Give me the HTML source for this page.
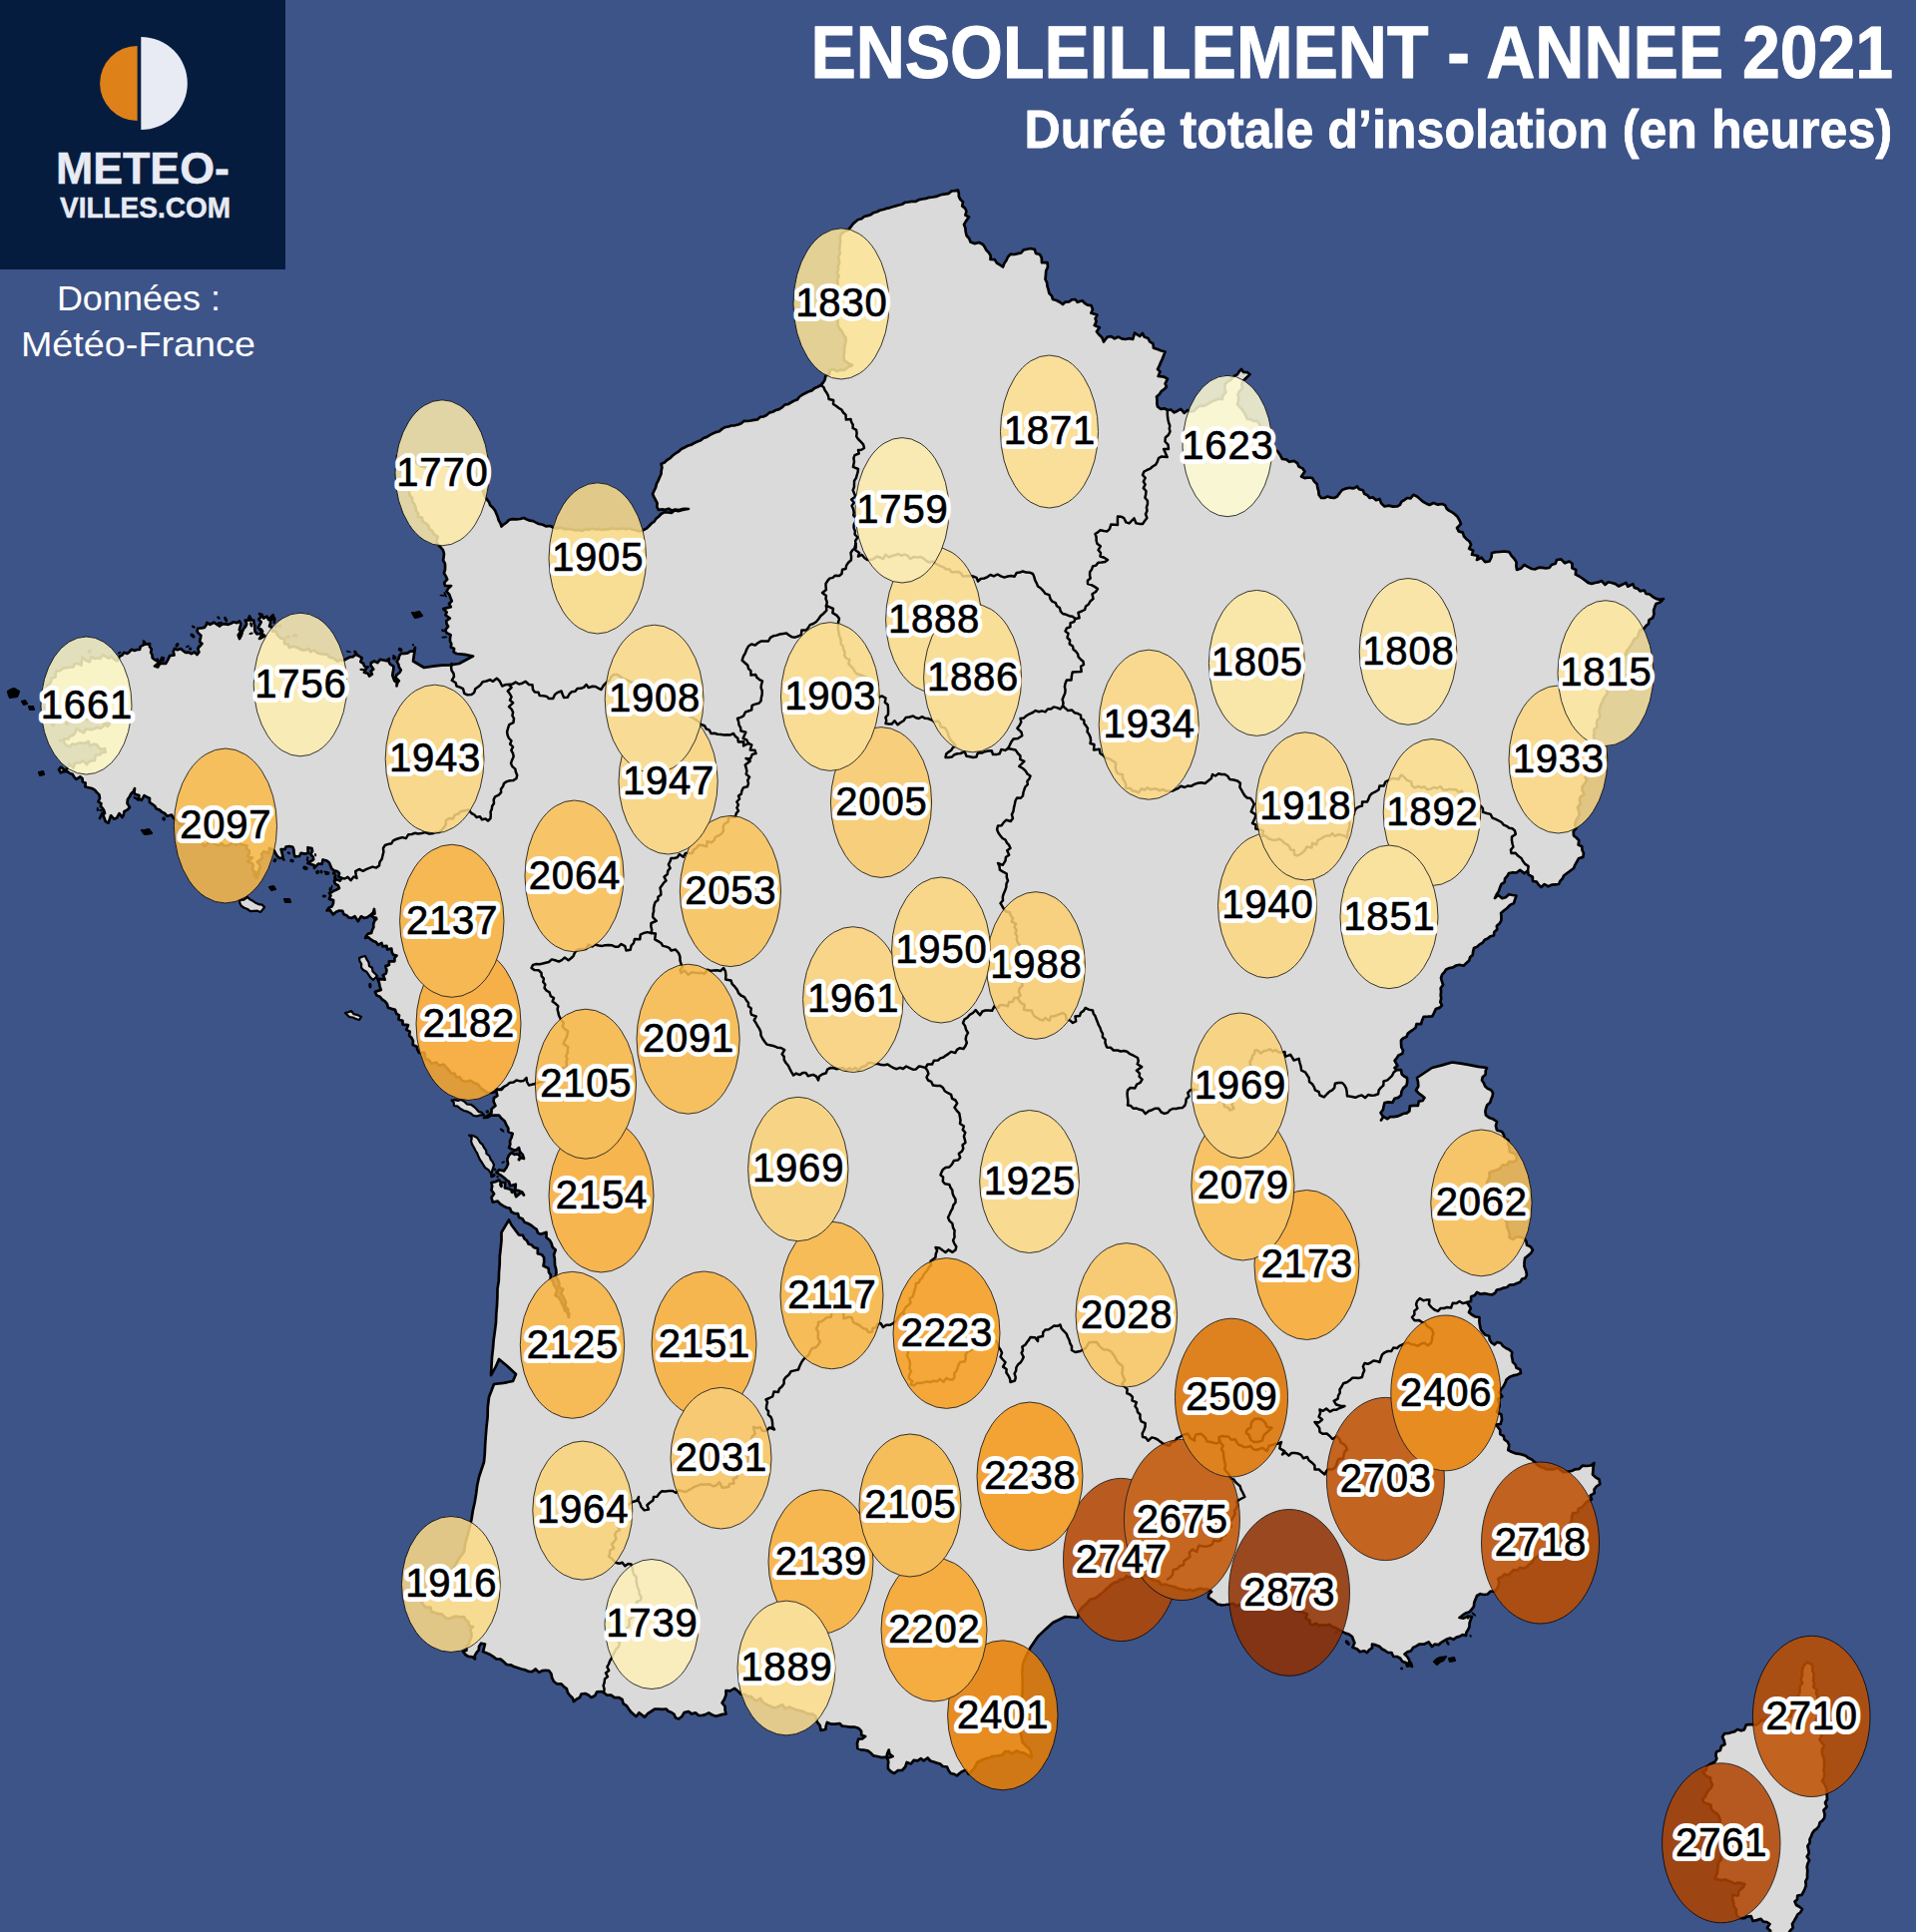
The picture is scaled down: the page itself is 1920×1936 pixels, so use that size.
<!DOCTYPE html>
<html lang="fr"><head><meta charset="utf-8"><title>Ensoleillement - Année 2021</title>
<style>html,body{margin:0;padding:0;background:#3d5489}body{width:1920px;height:1936px;position:relative;overflow:hidden}</style>
</head><body>
<svg width="1920" height="1936" viewBox="0 0 1920 1936" style="position:absolute;left:0;top:0">
<rect width="1920" height="1936" fill="#3d5489"/>
<g fill="#dadada" stroke="#000" stroke-width="2.7" stroke-linejoin="round">
<path d="M960.0,190.5 960.8,193.7 960.9,197.0 962.5,200.0 965.0,202.4 964.2,206.4 967.0,208.6 968.5,211.5 967.4,215.6 971.0,217.5 968.3,221.1 966.0,225.0 967.4,228.5 967.7,232.3 968.6,236.0 971.2,239.0 972.5,242.5 976.5,244.1 981.1,243.0 985.0,245.0 986.9,247.8 988.5,250.8 991.0,253.3 992.7,256.2 992.5,260.0 996.7,260.1 998.9,263.5 1002.0,265.4 1005.0,267.5 1006.3,264.0 1008.4,260.9 1010.0,257.5 1012.6,254.7 1016.4,255.0 1019.7,254.1 1023.2,253.5 1025.7,250.4 1029.1,249.7 1032.5,249.0 1036.8,249.9 1038.0,253.9 1042.0,255.0 1043.8,258.4 1044.0,263.2 1049.5,263.0 1050.0,267.5 1048.2,271.5 1047.9,275.8 1047.5,280.0 1049.1,283.2 1049.5,286.9 1050.6,290.2 1051.3,293.8 1054.0,296.6 1055.0,300.0 1058.7,301.0 1062.0,302.7 1065.0,305.0 1067.7,302.6 1071.2,302.4 1074.0,300.3 1077.5,300.0 1079.8,302.8 1084.5,301.3 1086.9,303.8 1089.8,305.6 1093.4,306.1 1095.0,310.0 1093.4,313.7 1099.4,315.5 1097.6,319.3 1098.6,322.3 1096.7,326.1 1101.9,328.2 1098.9,332.2 1101.0,335.0 1104.3,338.2 1106.0,342.5 1107.8,339.9 1110.0,337.5 1113.6,337.2 1116.9,339.3 1120.7,337.6 1124.0,339.4 1127.5,340.0 1131.1,339.2 1135.2,339.8 1137.0,333.6 1142.1,337.0 1145.0,334.0 1146.6,337.5 1150.4,338.9 1152.2,342.3 1155.4,344.3 1156.0,348.7 1160.0,350.0 1163.7,351.5 1167.5,352.5 1166.2,356.1 1164.8,359.6 1163.2,363.1 1161.7,366.6 1160.0,370.0 1162.5,372.4 1160.7,377.0 1166.6,377.7 1170.0,379.6 1167.6,384.5 1169.0,387.5 1166.6,390.1 1163.7,392.2 1161.7,395.2 1159.0,397.5 1159.5,400.8 1159.3,404.2 1160.0,407.5 1162.9,409.8 1166.9,409.3 1170.0,411.0 1173.3,410.5 1176.7,413.4 1180.0,411.7 1183.3,409.8 1186.7,413.9 1190.0,411.0 1192.5,412.5 1196.4,411.9 1199.2,408.8 1202.4,406.7 1206.6,406.8 1210.0,405.0 1213.4,402.8 1217.1,401.2 1220.7,399.7 1225.0,400.0 1225.4,396.3 1228.3,393.4 1227.5,389.4 1227.3,385.5 1230.0,382.5 1233.6,380.5 1236.1,377.3 1239.7,375.4 1242.0,372.0 1244.0,370.0 1246.1,373.0 1249.8,373.2 1252.5,375.0 1250.1,377.6 1247.5,380.0 1245.0,382.5 1244.3,385.7 1245.0,389.2 1242.0,392.0 1240.5,395.0 1241.2,398.5 1241.0,401.9 1240.0,405.0 1242.3,407.8 1244.8,410.5 1246.8,413.4 1248.4,416.7 1250.0,420.0 1253.4,420.3 1256.2,422.0 1259.8,421.9 1262.0,425.0 1263.2,428.2 1265.1,431.0 1268.1,433.3 1270.9,435.6 1270.0,440.0 1272.5,443.3 1273.9,447.5 1277.5,450.0 1280.7,452.8 1283.0,456.3 1285.0,460.0 1288.9,460.3 1292.3,462.8 1296.5,461.9 1300.0,464.0 1301.6,467.6 1305.3,469.4 1307.5,472.5 1304.0,477.5 1307.5,479.1 1311.3,478.5 1315.0,479.0 1316.8,482.2 1319.7,484.9 1320.3,488.6 1321.3,492.2 1321.7,496.0 1324.0,499.0 1327.2,499.0 1330.3,497.5 1333.6,498.6 1336.9,499.0 1340.0,497.5 1342.4,494.1 1345.0,491.0 1348.6,489.6 1352.4,488.8 1356.5,489.4 1360.0,487.5 1362.0,490.3 1365.8,491.2 1367.2,494.7 1370.4,496.3 1372.5,499.0 1375.9,498.4 1379.0,501.2 1382.5,500.0 1384.1,504.3 1387.5,507.5 1391.7,506.6 1395.8,507.6 1400.0,507.5 1402.9,505.9 1404.5,502.6 1407.4,501.0 1410.0,499.0 1413.5,499.3 1416.3,495.8 1420.0,497.5 1422.9,500.0 1425.7,502.5 1429.0,504.4 1432.5,506.0 1436.5,504.0 1440.9,505.7 1445.0,505.0 1448.2,506.2 1449.6,509.6 1452.0,511.6 1454.8,513.2 1457.5,515.0 1460.5,517.8 1462.5,521.3 1464.0,525.0 1460.0,529.0 1461.7,532.4 1465.8,533.6 1467.0,537.5 1469.5,540.2 1472.5,542.5 1474.1,545.5 1472.2,549.8 1476.2,551.8 1475.0,555.8 1481.1,557.0 1480.0,561.0 1484.5,558.7 1488.2,563.2 1492.5,562.5 1494.5,558.5 1495.0,554.0 1499.1,553.1 1503.3,552.9 1507.5,552.5 1512.3,553.1 1514.6,556.9 1517.5,560.0 1519.6,563.4 1519.4,567.3 1520.0,571.0 1524.4,569.4 1527.5,566.0 1531.2,568.1 1535.0,570.0 1538.5,570.3 1542.0,568.7 1545.5,568.9 1549.0,569.3 1552.5,569.0 1554.7,566.1 1558.7,564.7 1560.0,561.0 1564.3,560.4 1568.1,564.3 1572.5,562.5 1575.5,564.8 1575.4,569.2 1579.3,571.0 1578.8,575.6 1582.5,577.5 1585.5,579.5 1588.5,581.7 1591.4,583.9 1595.0,585.0 1598.3,584.0 1601.6,583.4 1604.9,582.0 1608.4,585.9 1611.6,583.3 1615.0,584.0 1618.8,585.1 1622.0,587.5 1625.7,585.7 1629.5,584.0 1631.2,587.7 1636.3,585.2 1637.9,589.0 1641.2,589.9 1643.5,592.4 1647.7,591.5 1649.5,595.0 1653.1,595.5 1656.2,598.0 1659.5,599.9 1663.0,600.9 1667.0,600.0 1663.8,603.4 1659.5,605.0 1658.2,608.3 1657.1,611.7 1657.4,615.6 1656.2,619.0 1652.4,621.3 1652.0,625.0 1649.3,627.3 1647.1,630.1 1643.4,631.4 1642.0,635.0 1641.0,638.7 1637.5,640.6 1636.0,644.0 1634.1,647.0 1632.0,650.0 1629.9,652.9 1628.7,656.2 1627.0,659.2 1625.5,662.4 1622.0,664.5 1623.0,668.9 1619.9,671.3 1619.5,675.0 1617.3,677.8 1616.8,681.4 1613.9,683.9 1614.2,688.0 1610.4,690.0 1611.0,694.2 1609.1,697.1 1607.0,700.0 1605.8,703.0 1604.3,706.0 1603.4,709.1 1602.6,712.2 1603.1,715.7 1603.2,719.1 1600.5,721.7 1600.0,724.9 1600.7,728.4 1597.5,730.9 1597.6,734.3 1597.0,737.5 1597.5,741.1 1595.1,744.2 1596.6,748.1 1595.3,751.4 1593.1,754.4 1594.8,758.3 1592.2,761.4 1593.2,765.1 1590.0,768.0 1591.1,771.8 1589.5,775.0 1588.6,778.4 1590.0,782.2 1587.9,785.3 1585.6,788.4 1585.5,791.9 1587.7,795.9 1583.6,798.6 1583.0,802.1 1583.8,805.8 1580.9,808.7 1582.0,812.5 1582.8,816.2 1581.1,819.5 1579.1,822.8 1578.4,826.3 1579.5,830.0 1576.7,833.2 1577.0,837.5 1579.9,839.7 1582.3,842.2 1581.6,846.5 1585.2,848.3 1585.5,852.0 1587.0,855.0 1586.3,858.9 1581.9,860.3 1580.2,863.4 1578.4,866.6 1577.0,870.0 1573.7,872.5 1570.3,875.0 1567.0,877.5 1565.7,880.5 1563.3,882.9 1562.0,886.0 1558.4,886.3 1554.9,886.6 1551.6,888.3 1547.6,886.1 1544.5,889.0 1541.9,886.7 1539.8,883.6 1536.0,883.0 1535.8,878.8 1531.7,876.5 1531.0,872.5 1527.5,875.1 1523.2,871.9 1519.7,874.5 1515.8,874.4 1512.0,875.0 1510.4,877.9 1508.1,880.4 1507.6,884.1 1504.5,886.0 1503.0,889.6 1501.8,893.2 1499.6,896.5 1498.0,900.0 1501.2,896.7 1505.3,900.2 1508.8,899.2 1512.1,896.2 1515.8,897.0 1519.5,897.5 1518.2,901.2 1517.0,905.0 1513.2,906.9 1510.3,910.0 1507.0,912.5 1504.1,915.0 1504.5,918.7 1504.4,922.3 1502.8,925.3 1499.9,927.8 1500.2,931.5 1497.3,934.0 1497.0,937.5 1493.5,938.2 1490.9,940.4 1487.8,941.8 1485.7,944.8 1482.7,946.4 1480.2,948.8 1477.0,950.0 1476.2,953.3 1475.7,956.9 1473.1,959.3 1472.2,962.6 1469.5,965.0 1466.6,967.7 1462.6,966.8 1459.1,967.5 1456.0,969.4 1452.5,970.0 1449.1,971.4 1447.4,974.2 1445.1,976.7 1444.0,980.0 1444.9,983.4 1446.1,986.8 1443.7,990.3 1444.1,993.8 1443.7,997.2 1444.2,1000.6 1443.3,1004.1 1445.0,1007.5 1442.4,1009.9 1438.8,1011.1 1437.1,1014.8 1435.3,1018.4 1431.0,1018.7 1426.7,1018.9 1425.0,1022.5 1424.1,1026.2 1419.5,1026.0 1418.6,1029.8 1416.0,1031.8 1413.3,1033.6 1410.8,1035.6 1409.5,1038.9 1406.2,1040.2 1404.0,1042.5 1404.1,1045.9 1404.3,1049.4 1406.0,1052.5 1405.4,1055.8 1401.4,1057.5 1399.6,1060.2 1397.6,1062.8 1400.4,1067.8 1397.5,1070.0 1399.9,1072.2 1404.0,1072.2 1404.7,1076.4 1407.1,1078.5 1410.0,1080.0 1410.2,1084.0 1409.5,1087.6 1406.2,1090.4 1404.5,1093.7 1404.0,1097.5 1401.1,1099.9 1397.5,1100.8 1395.4,1104.9 1391.2,1104.3 1387.5,1105.0 1386.6,1108.5 1385.9,1112.0 1383.5,1115.1 1386.1,1119.3 1384.0,1122.5 1386.3,1118.9 1390.4,1121.2 1393.2,1119.0 1396.7,1119.1 1400.0,1118.7 1403.1,1117.6 1406.0,1116.0 1409.8,1115.4 1412.4,1113.4 1412.8,1108.3 1416.7,1107.9 1420.9,1108.0 1421.8,1103.6 1425.5,1103.0 1427.5,1100.0 1424.6,1097.6 1421.5,1095.4 1419.0,1092.5 1421.3,1088.5 1421.0,1084.3 1420.0,1080.0 1427.5,1075.0 1435.0,1070.0 1445.0,1067.4 1455.0,1064.5 1463.8,1065.6 1472.5,1067.1 1481.2,1068.8 1490.0,1070.0 1488.7,1073.1 1488.7,1076.7 1485.7,1079.2 1485.0,1082.5 1486.9,1085.3 1488.2,1088.6 1490.7,1090.8 1494.1,1092.3 1496.0,1095.0 1495.6,1098.4 1494.2,1101.5 1493.3,1104.7 1490.3,1107.3 1489.1,1110.5 1488.4,1113.8 1489.0,1117.5 1492.4,1120.1 1496.5,1121.6 1500.0,1124.0 1498.9,1128.2 1500.0,1132.5 1505.0,1134.0 1506.9,1137.0 1507.7,1140.5 1511.4,1142.7 1511.5,1146.6 1512.5,1150.0 1512.8,1154.1 1517.4,1155.6 1519.7,1158.4 1520.0,1162.5 1516.8,1164.3 1512.4,1164.0 1510.0,1167.5 1505.8,1167.3 1503.2,1170.9 1499.7,1172.5 1496.1,1173.6 1492.5,1175.0 1492.8,1179.4 1490.8,1183.3 1490.0,1187.5 1491.4,1190.9 1493.8,1194.0 1493.7,1197.8 1494.3,1201.4 1495.0,1205.0 1498.0,1207.2 1500.4,1209.9 1500.5,1214.3 1501.7,1217.9 1506.0,1219.1 1508.3,1221.8 1510.0,1225.0 1510.0,1228.9 1511.5,1232.5 1512.8,1236.1 1512.5,1240.0 1516.1,1242.0 1520.1,1239.2 1523.8,1239.8 1527.5,1241.0 1529.5,1244.0 1530.0,1247.5 1533.7,1249.2 1536.0,1252.5 1534.1,1255.8 1531.2,1258.3 1528.1,1260.9 1527.5,1265.0 1527.5,1269.3 1529.1,1273.3 1530.0,1277.5 1528.5,1280.8 1525.0,1281.8 1523.3,1284.8 1520.0,1286.0 1516.7,1287.4 1512.9,1287.5 1510.0,1290.0 1506.6,1290.6 1503.4,1291.9 1500.0,1292.5 1498.2,1295.7 1495.0,1297.5 1491.2,1296.9 1487.5,1296.1 1483.6,1296.8 1480.0,1295.0 1477.9,1297.9 1474.2,1299.2 1474.0,1304.0 1470.0,1305.0 1471.8,1307.9 1473.9,1310.7 1472.0,1315.1 1475.0,1317.5 1478.5,1319.5 1482.5,1320.0 1482.4,1324.2 1483.0,1328.4 1484.0,1332.5 1486.0,1335.2 1488.2,1337.7 1492.2,1338.7 1492.8,1342.7 1494.7,1345.5 1497.5,1347.5 1500.3,1345.0 1504.0,1346.0 1506.2,1349.0 1509.2,1351.0 1512.5,1352.5 1515.2,1355.1 1514.8,1358.6 1515.5,1361.8 1516.0,1365.0 1518.5,1367.4 1519.6,1370.8 1523.3,1372.3 1524.0,1376.0 1520.3,1377.6 1516.2,1378.4 1512.5,1380.0 1509.6,1382.6 1508.2,1386.2 1506.4,1389.5 1504.0,1392.5 1502.6,1395.6 1505.3,1399.4 1501.1,1401.9 1502.1,1405.4 1502.7,1408.8 1501.1,1411.9 1500.0,1415.0 1504.4,1417.5 1505.0,1422.5 1503.6,1427.0 1499.0,1427.5 1501.1,1430.3 1503.2,1433.0 1503.3,1437.0 1506.8,1439.0 1507.5,1442.5 1510.8,1444.8 1512.3,1448.1 1511.3,1453.0 1515.0,1455.0 1518.3,1456.3 1521.9,1456.8 1525.4,1457.6 1528.8,1458.7 1531.7,1461.1 1535.0,1462.5 1537.7,1464.9 1540.2,1467.7 1543.2,1469.7 1546.8,1470.8 1550.0,1472.5 1553.4,1472.1 1556.8,1472.3 1560.4,1470.9 1563.5,1472.9 1566.6,1475.1 1570.0,1475.0 1575.0,1474.0 1578.6,1472.3 1582.6,1471.9 1585.7,1468.7 1590.0,1469.0 1594.2,1468.5 1597.5,1466.0 1596.6,1469.8 1596.4,1473.7 1596.0,1477.5 1598.9,1480.4 1602.5,1482.5 1603.3,1487.1 1599.8,1489.5 1597.5,1492.5 1597.8,1496.1 1593.6,1498.6 1595.0,1502.5 1590.0,1505.0 1587.7,1507.7 1585.4,1510.4 1581.7,1511.7 1580.9,1515.9 1576.2,1516.2 1575.0,1520.0 1575.0,1523.5 1573.4,1526.7 1572.5,1530.0 1570.8,1533.3 1566.8,1534.3 1566.9,1539.4 1561.9,1539.4 1560.7,1543.2 1557.5,1545.0 1556.0,1548.5 1552.3,1549.8 1550.0,1552.5 1547.3,1554.5 1544.5,1556.2 1542.2,1558.6 1539.5,1560.5 1536.7,1562.3 1535.3,1565.7 1532.5,1567.5 1530.1,1570.2 1527.0,1571.7 1523.0,1570.9 1520.5,1573.5 1516.7,1573.2 1514.1,1575.8 1511.6,1578.4 1507.6,1577.6 1505.0,1580.0 1501.3,1581.9 1502.2,1586.1 1501.5,1589.5 1499.9,1592.5 1497.5,1595.0 1493.7,1594.5 1490.7,1597.5 1487.1,1598.0 1483.3,1597.2 1480.0,1599.0 1478.7,1602.4 1477.3,1605.7 1477.0,1609.4 1475.0,1612.5 1472.4,1615.4 1468.6,1616.5 1465.5,1618.7 1462.5,1621.0 1466.7,1621.6 1470.8,1619.6 1475.0,1620.0 1473.7,1623.2 1472.6,1626.5 1472.5,1630.0 1471.2,1633.0 1469.4,1635.7 1469.0,1639.0 1465.6,1638.1 1462.6,1639.9 1459.5,1640.6 1456.6,1642.8 1453.1,1641.4 1450.0,1642.5 1447.1,1644.1 1444.2,1645.9 1441.6,1648.1 1437.6,1647.7 1435.0,1650.0 1431.6,1645.4 1426.8,1647.7 1422.5,1647.5 1419.4,1649.4 1416.1,1651.0 1414.0,1654.2 1410.4,1655.4 1407.5,1657.5 1410.2,1660.1 1412.1,1663.3 1412.8,1667.1 1415.0,1670.0 1412.2,1667.7 1408.9,1666.1 1405.3,1665.0 1403.2,1661.7 1400.0,1660.0 1396.3,1660.0 1394.5,1656.0 1390.8,1656.0 1388.0,1654.0 1385.0,1652.5 1382.2,1649.8 1378.7,1648.4 1375.0,1647.5 1375.0,1651.3 1372.0,1653.4 1370.0,1656.0 1366.8,1654.3 1362.8,1655.2 1360.0,1652.5 1355.4,1650.7 1357.4,1646.3 1356.2,1643.2 1355.0,1640.0 1352.0,1637.8 1348.4,1636.6 1345.0,1635.0 1341.8,1633.2 1338.5,1631.3 1335.0,1630.0 1332.0,1627.9 1328.6,1628.7 1325.4,1628.3 1322.1,1629.1 1319.1,1626.8 1315.7,1628.1 1312.5,1627.5 1312.6,1623.9 1308.3,1621.5 1310.0,1617.5 1306.4,1615.8 1302.5,1614.9 1298.6,1613.9 1295.0,1612.0 1292.0,1609.8 1288.4,1610.2 1285.0,1610.2 1281.5,1610.0 1278.8,1606.4 1275.0,1608.0 1271.6,1607.4 1268.3,1607.9 1265.1,1609.9 1261.5,1607.7 1258.3,1609.0 1255.0,1610.0 1251.7,1610.0 1248.6,1609.4 1245.1,1610.9 1242.2,1607.8 1238.8,1609.6 1235.8,1606.8 1232.5,1607.5 1228.3,1608.0 1224.2,1608.3 1220.0,1607.5 1217.3,1605.0 1214.2,1603.0 1211.0,1601.0 1211.2,1597.4 1214.0,1595.0 1210.0,1592.5 1206.4,1592.6 1202.9,1591.7 1199.3,1592.8 1195.7,1594.2 1192.1,1592.8 1188.6,1593.7 1185.0,1592.5 1181.3,1592.2 1178.0,1590.4 1174.5,1589.6 1170.9,1588.8 1167.5,1587.5 1163.6,1588.2 1161.4,1584.6 1158.0,1584.0 1154.8,1583.0 1151.9,1581.1 1149.6,1577.8 1145.0,1580.2 1142.5,1577.5 1139.7,1580.3 1135.6,1578.2 1132.7,1581.0 1128.8,1579.3 1126.1,1582.9 1122.5,1582.5 1120.0,1585.1 1116.2,1586.0 1113.2,1588.0 1110.7,1590.6 1107.9,1592.8 1105.5,1595.5 1102.5,1597.5 1099.9,1600.0 1096.8,1601.9 1092.8,1602.5 1090.3,1605.1 1087.9,1607.9 1085.0,1610.0 1081.0,1615.0 1080.0,1621.0 1067.5,1620.0 1055.0,1626.0 1047.4,1632.9 1040.0,1640.0 1032.5,1651.0 1028.4,1659.1 1025.0,1667.5 1024.4,1676.9 1024.8,1686.3 1024.6,1695.7 1024.1,1706.1 1023.4,1716.6 1023.0,1727.0 1022.8,1736.5 1024.6,1745.8 1032.4,1753.6 1034.0,1761.4 1026.2,1756.7 1022.3,1756.0 1018.5,1754.3 1014.2,1757.3 1010.5,1755.0 1007.1,1755.0 1004.8,1758.6 1001.5,1759.2 998.3,1759.6 994.9,1759.8 991.8,1761.2 988.5,1762.1 985.3,1763.1 982.2,1764.5 979.2,1766.0 977.3,1770.3 974.5,1774.0 970.6,1777.9 968.1,1773.6 963.5,1775.5 958.8,1779.4 955.9,1777.7 952.6,1777.0 950.5,1774.0 949.0,1770.5 944.7,1770.0 942.1,1767.5 938.7,1766.6 935.5,1765.5 932.2,1764.5 929.6,1761.5 925.6,1764.3 922.8,1762.2 919.6,1764.3 915.7,1763.9 912.9,1767.5 908.7,1766.0 907.2,1770.5 904.0,1774.0 899.6,1774.2 896.2,1777.0 892.8,1775.2 890.0,1772.4 889.9,1768.9 890.3,1765.4 889.2,1762.0 894.6,1760.0 891.4,1757.6 890.7,1753.6 889.2,1757.0 888.4,1760.6 883.7,1761.1 879.0,1760.0 875.2,1759.3 872.6,1756.6 869.6,1754.4 866.2,1753.7 862.7,1753.3 859.4,1752.0 859.0,1747.2 860.2,1742.6 864.1,1742.4 867.2,1740.0 863.3,1738.7 863.1,1734.6 860.2,1731.7 856.1,1730.5 851.9,1730.7 847.7,1730.0 844.0,1729.7 841.4,1727.0 837.2,1727.7 833.0,1727.7 828.9,1726.0 827.8,1729.4 827.3,1733.0 822.6,1734.0 821.7,1729.2 818.7,1725.4 817.5,1720.0 814.8,1717.7 811.2,1717.5 807.9,1716.7 805.0,1715.0 801.5,1714.1 797.9,1713.4 794.4,1712.1 791.1,1710.4 787.0,1712.3 784.1,1708.2 780.0,1710.0 776.1,1711.6 773.1,1710.2 770.1,1709.0 767.1,1707.5 764.3,1705.6 762.0,1701.9 757.9,1704.3 755.0,1702.5 752.6,1699.8 748.8,1699.9 746.1,1697.8 742.4,1697.6 740.0,1695.0 736.1,1691.9 731.7,1694.4 727.5,1694.0 727.5,1698.4 726.0,1702.5 723.6,1706.5 726.5,1710.0 726.6,1713.8 727.5,1717.5 724.1,1717.9 720.7,1718.9 717.3,1719.8 713.8,1718.5 710.2,1716.4 706.8,1718.1 703.4,1719.0 700.0,1719.0 697.2,1716.4 692.9,1717.4 690.0,1715.0 685.6,1716.1 683.3,1720.0 680.0,1722.5 676.9,1721.3 675.5,1717.8 672.9,1716.0 669.7,1714.8 667.5,1712.5 663.7,1712.9 659.8,1712.6 656.0,1712.7 652.5,1715.0 649.1,1717.2 646.0,1720.6 640.4,1716.3 637.5,1720.0 634.8,1717.7 632.1,1715.4 630.0,1712.5 627.9,1709.3 624.6,1707.1 623.5,1703.0 620.0,1701.0 615.8,1701.2 612.4,1698.7 608.3,1698.7 605.0,1696.0 602.5,1695.0 598.2,1695.4 596.0,1699.3 592.5,1701.0 589.6,1698.5 586.4,1697.0 582.5,1697.5 581.0,1701.0 577.7,1702.7 575.0,1705.0 573.7,1701.5 571.1,1699.0 568.9,1696.1 567.9,1692.4 565.0,1690.0 562.2,1687.3 558.0,1687.3 555.0,1685.0 553.2,1681.4 552.4,1677.3 550.0,1674.0 546.7,1673.9 543.3,1674.2 540.1,1675.9 536.6,1672.5 533.3,1675.1 530.0,1675.0 526.4,1673.4 522.5,1672.5 518.8,1671.2 515.0,1670.0 511.6,1668.3 507.6,1668.0 504.7,1665.1 501.6,1662.6 497.5,1662.5 494.4,1660.2 491.2,1658.0 487.7,1656.4 484.0,1655.0 485.0,1651.3 486.0,1647.5 482.1,1646.7 480.0,1650.0 479.8,1653.4 477.5,1656.1 475.8,1659.0 476.0,1662.5 473.2,1660.3 469.3,1659.9 466.3,1658.0 464.0,1655.0 467.5,1653.7 467.1,1649.3 470.0,1647.5 470.8,1644.0 472.3,1640.7 472.5,1637.0 471.1,1633.0 474.0,1630.0 470.0,1629.1 469.4,1625.1 466.5,1623.1 465.0,1620.0 461.7,1620.3 458.3,1619.9 455.0,1619.8 451.7,1621.7 448.3,1622.1 445.0,1620.0 442.8,1617.3 439.0,1617.2 435.8,1616.0 432.4,1615.1 431.3,1610.7 427.3,1610.8 424.6,1608.9 422.5,1606.0 428.4,1600.1 434.2,1594.1 440.0,1588.0 447.6,1579.1 455.0,1570.0 459.7,1562.3 465.0,1555.0 466.2,1546.7 468.5,1538.7 470.6,1530.6 472.5,1522.5 473.8,1514.0 475.7,1505.5 477.1,1497.0 478.2,1488.5 480.0,1480.0 485.0,1465.0 485.8,1456.3 486.2,1447.5 486.8,1438.7 487.5,1430.0 488.6,1420.0 488.8,1410.0 490.0,1400.0 495.0,1387.0 504.5,1385.8 514.0,1384.0 517.0,1377.0 508.7,1369.3 500.0,1362.0 496.5,1370.2 492.0,1378.0 492.5,1369.0 493.0,1360.0 494.0,1351.2 494.7,1342.5 495.9,1333.7 497.0,1325.0 497.3,1316.7 498.0,1308.3 498.4,1300.0 498.5,1291.6 499.8,1283.4 500.0,1275.0 500.7,1267.0 500.8,1259.0 501.7,1251.0 502.5,1243.0 502.5,1235.0 510.0,1222.5 512.5,1227.5 520.0,1237.5 523.9,1237.9 525.4,1241.2 528.0,1243.2 529.5,1246.4 532.8,1247.6 535.0,1250.0 538.9,1251.1 538.8,1256.2 542.8,1257.2 545.0,1260.0 545.3,1264.1 544.5,1268.5 549.7,1270.9 550.0,1275.0 551.9,1277.8 551.6,1281.5 554.3,1283.9 554.9,1287.3 557.0,1290.0 558.3,1293.3 556.4,1298.0 560.3,1300.3 561.9,1303.5 563.5,1306.7 565.0,1310.0 566.2,1313.5 570.2,1315.8 570.0,1320.0 568.9,1316.3 569.4,1312.3 566.3,1309.0 567.0,1305.0 565.6,1302.0 564.1,1299.0 562.2,1296.3 564.2,1291.7 560.0,1290.0 560.4,1286.1 559.2,1282.4 557.0,1278.9 557.5,1275.0 557.1,1271.5 556.1,1268.1 555.9,1264.5 555.8,1261.0 555.0,1257.5 556.7,1252.6 553.7,1249.8 552.7,1246.1 550.8,1242.7 547.5,1240.0 547.5,1234.9 541.9,1236.7 538.9,1235.4 537.7,1231.8 535.0,1230.0 532.2,1227.7 529.0,1226.0 525.5,1224.7 523.5,1221.2 520.0,1220.0 519.0,1216.1 515.2,1215.8 512.3,1214.2 511.0,1210.7 507.5,1210.0 504.3,1208.4 501.2,1206.4 498.7,1203.6 493.7,1204.7 492.5,1200.0 495.1,1196.2 492.4,1192.5 493.2,1188.8 492.5,1185.0 496.4,1184.2 500.0,1182.5 502.1,1185.0 506.2,1185.0 505.9,1190.4 509.5,1191.1 512.5,1192.5 515.5,1194.1 517.1,1199.1 522.5,1194.6 525.0,1197.5 523.2,1194.5 519.9,1193.2 516.1,1192.5 516.8,1186.7 511.1,1188.2 510.1,1184.2 507.4,1182.3 505.0,1180.0 501.4,1177.3 497.5,1175.0 500.2,1172.2 505.0,1173.4 507.5,1170.0 509.1,1166.4 508.3,1161.9 509.6,1158.2 512.5,1155.0 515.5,1156.9 519.5,1156.5 521.6,1160.1 525.0,1161.0 523.8,1157.1 520.9,1154.0 520.0,1150.0 516.7,1152.7 513.3,1151.8 510.0,1150.0 511.3,1146.8 511.0,1143.2 512.5,1140.0 513.7,1135.9 509.4,1134.0 509.3,1130.4 507.5,1127.5 505.8,1123.6 502.6,1120.8 500.0,1117.5 496.2,1117.7 492.3,1117.3 488.8,1119.6 485.0,1120.0 489.0,1117.9 492.5,1115.0 492.6,1111.2 496.5,1108.0 494.6,1103.8 495.0,1100.0 498.4,1098.0 496.9,1091.7 502.0,1091.3 505.0,1089.0 502.6,1091.9 498.7,1091.9 495.9,1094.1 492.5,1095.0 488.3,1095.1 485.0,1092.5 481.4,1090.3 479.0,1086.6 475.0,1085.0 471.1,1082.8 466.5,1084.0 462.5,1082.5 460.8,1079.5 457.0,1079.1 455.5,1075.9 451.8,1075.3 450.0,1072.5 447.3,1069.7 444.6,1066.6 439.8,1067.8 437.4,1064.5 432.5,1065.8 430.0,1062.5 426.2,1060.6 425.3,1054.8 420.0,1055.0 418.4,1052.0 417.6,1048.7 413.7,1046.9 414.0,1043.0 412.5,1040.0 410.1,1037.7 410.7,1033.6 407.2,1031.9 409.0,1027.2 403.5,1026.6 403.5,1022.9 399.4,1021.5 400.0,1017.5 397.2,1015.7 396.0,1011.9 392.4,1010.9 388.9,1009.8 387.9,1005.9 385.8,1003.3 382.9,1001.5 380.8,998.8 377.5,997.5 375.8,993.9 381.8,991.9 380.6,988.4 380.0,985.0 378.4,980.7 385.7,981.6 383.8,977.1 386.8,975.5 387.5,972.5 386.4,968.1 389.9,966.9 389.9,963.3 395.4,963.3 395.5,959.8 397.5,957.5 394.4,956.9 392.8,954.4 392.3,950.7 388.1,951.4 387.4,947.8 383.4,948.3 382.5,945.0 378.9,946.9 376.8,944.1 374.1,943.0 371.6,941.4 369.2,939.3 366.0,940.0 367.2,937.5 369.0,935.6 372.2,934.9 373.0,932.0 374.4,929.2 374.2,926.0 375.3,923.1 375.5,920.0 371.2,917.2 374.1,914.1 375.0,911.0 375.5,915.7 371.0,917.0 368.3,919.1 365.0,920.0 361.9,918.3 358.8,923.2 355.6,918.2 352.5,920.0 349.5,919.4 347.3,917.3 344.5,916.3 343.2,912.8 340.0,912.5 336.9,913.8 333.8,916.4 330.6,911.9 327.5,912.5 329.5,909.8 332.7,908.3 334.0,905.0 334.1,902.1 329.9,900.9 331.4,897.4 330.0,895.0 332.6,894.0 334.9,892.4 337.6,891.4 340.0,890.0 338.8,887.2 335.8,885.6 335.0,882.5 337.4,881.4 340.6,882.6 342.5,880.0 339.4,878.4 340.0,875.0 337.8,873.0 334.5,872.2 332.3,870.2 331.1,867.2 329.8,864.3 327.5,862.5 323.5,861.5 322.7,865.8 319.1,865.5 317.0,867.6 315.0,870.0 314.8,867.1 308.4,865.0 314.2,861.4 313.7,858.6 311.3,856.0 313.1,852.8 312.5,850.0 308.5,849.2 308.7,855.0 305.5,855.6 301.6,854.9 300.0,858.0 295.6,858.4 294.6,855.4 294.4,851.6 293.3,848.7 290.0,848.0 286.6,848.5 285.6,851.1 281.6,851.2 282.8,855.5 283.6,859.6 280.0,860.0 277.7,857.7 276.0,855.0 274.8,852.4 272.5,851.1 270.0,850.0 269.5,854.9 264.2,853.4 262.0,856.0 263.0,858.9 261.4,861.4 257.8,863.5 260.3,866.7 260.7,869.6 259.2,872.0 259.7,874.9 254.2,876.6 257.5,880.0 258.2,877.0 257.5,874.5 253.8,872.9 253.0,870.4 253.8,867.3 252.5,865.0 247.8,863.6 252.9,859.5 248.0,858.2 249.8,854.9 249.5,852.3 246.8,850.4 247.5,847.5 244.6,846.8 241.8,846.2 238.9,843.9 236.1,846.8 233.2,844.0 230.4,846.6 227.5,847.5 224.7,847.6 222.1,845.3 219.1,847.6 216.4,846.1 213.7,844.9 211.0,843.7 208.1,845.0 205.0,848.0 202.5,845.0 202.0,841.4 198.5,841.4 195.9,840.4 193.2,839.5 192.8,835.8 190.0,835.0 188.4,832.7 186.9,830.3 183.8,829.6 184.0,825.4 179.7,826.0 178.5,823.2 176.3,821.6 174.0,820.0 172.0,816.6 167.4,817.8 165.0,815.0 162.2,813.6 159.8,811.6 156.7,810.4 155.0,807.5 152.3,805.7 149.8,803.8 150.0,800.0 147.2,798.6 144.5,797.2 141.8,801.9 139.0,800.0 139.4,797.0 135.0,795.8 134.6,793.1 135.0,790.0 133.8,793.0 131.5,795.2 130.0,798.0 127.9,801.2 127.5,805.0 130.0,809.0 127.8,811.4 124.4,813.3 123.9,816.4 122.5,819.0 119.5,815.1 116.9,819.8 114.1,820.6 111.1,817.2 108.7,824.7 105.8,823.3 102.6,814.7 100.0,820.0 101.7,816.7 105.0,815.0 104.3,812.5 103.0,810.1 100.9,808.0 101.4,805.1 98.5,803.3 100.0,800.0 99.4,796.4 97.1,794.1 95.0,791.7 92.0,790.0 88.8,789.2 85.5,788.5 85.6,784.6 82.9,783.4 82.5,780.0 80.3,778.3 76.4,780.9 74.3,778.6 72.6,775.8 70.0,775.0 67.5,773.2 64.6,772.8 60.9,774.3 59.0,771.0 61.2,768.8 65.7,772.6 67.6,769.7 69.1,765.5 73.6,769.4 75.0,765.0 77.8,764.3 80.7,764.1 83.3,762.2 86.9,766.1 89.3,763.0 92.1,762.3 95.0,762.0 95.3,758.9 96.5,756.4 100.3,756.2 101.7,754.0 105.6,753.9 105.0,750.0 101.7,751.0 99.1,749.3 96.9,746.0 93.9,745.7 90.4,747.7 88.5,743.0 85.0,745.0 81.8,744.7 78.7,744.6 75.9,746.2 72.6,745.6 70.0,748.0 67.1,747.2 64.8,745.4 63.6,741.7 60.0,742.0 62.8,741.5 65.3,740.3 68.4,740.4 70.2,737.7 72.8,736.9 75.0,735.0 76.8,730.2 80.5,732.6 83.9,734.4 86.0,730.5 89.1,730.9 92.2,731.1 95.0,730.0 97.4,728.9 100.5,729.9 102.8,728.3 104.9,726.3 108.1,727.8 110.0,725.0 107.0,725.0 104.0,724.9 101.6,722.3 98.9,721.0 95.6,721.7 92.4,722.7 90.0,720.0 87.2,721.3 84.2,720.2 81.3,719.6 78.2,717.8 75.7,721.7 72.9,722.1 70.0,722.0 67.1,726.1 64.3,719.6 61.4,720.3 58.6,722.0 55.7,723.4 52.9,727.0 50.0,722.0 48.6,718.7 44.3,718.4 43.0,715.0 46.2,712.4 45.2,709.2 46.6,706.3 44.3,703.0 45.0,700.0 48.0,698.2 44.1,694.2 50.1,693.4 48.3,690.0 47.0,686.8 50.0,685.0 51.1,682.4 51.9,679.5 55.4,678.8 55.6,675.5 56.4,672.7 60.0,672.0 62.2,670.2 64.8,669.3 67.7,668.8 70.6,668.5 73.5,668.3 75.0,665.0 78.0,665.0 81.5,666.6 82.4,658.3 86.4,662.0 89.7,663.1 91.5,658.3 95.0,660.0 97.7,659.3 100.6,659.8 103.0,656.2 106.0,657.8 109.0,659.7 111.6,657.7 114.7,660.9 117.7,662.2 120.0,657.5 122.5,656.5 124.3,653.8 127.5,655.0 129.7,653.2 131.7,650.9 134.8,651.9 137.2,651.0 140.0,651.0 140.7,647.9 144.2,646.1 144.0,642.5 146.2,645.6 150.0,645.0 149.9,648.0 151.9,650.5 151.1,653.6 152.5,656.3 152.7,659.2 155.6,661.5 160.1,663.4 155.0,667.5 158.1,668.5 160.2,665.1 163.0,664.7 166.0,665.0 167.5,662.5 168.9,659.9 170.0,657.2 174.5,656.5 173.7,652.6 175.0,650.0 177.7,651.2 181.1,649.9 183.5,652.1 186.0,653.8 189.1,653.6 191.7,655.1 195.1,653.5 197.5,656.0 199.4,653.5 198.2,649.7 200.5,647.4 202.5,645.0 200.1,643.0 200.8,639.9 201.4,636.7 199.0,634.8 197.5,632.5 198.4,629.5 201.7,629.3 204.8,628.9 206.4,626.7 207.5,624.0 210.4,625.8 214.3,623.7 217.2,625.6 220.0,627.5 222.5,625.5 225.5,625.2 228.7,625.8 231.4,624.7 234.1,623.3 237.4,624.2 240.0,622.5 241.4,625.4 240.6,628.3 239.8,631.2 242.6,634.2 241.6,637.1 240.0,640.0 238.7,636.4 240.4,634.2 243.1,632.4 244.2,629.9 246.1,627.8 247.2,625.3 245.8,621.6 252.1,621.4 250.0,617.5 248.8,621.0 254.3,621.6 254.5,624.5 255.3,627.1 255.2,630.2 255.6,633.0 257.8,635.0 263.3,635.5 260.0,640.0 265.4,637.2 261.6,634.4 261.6,631.7 258.6,628.9 260.2,626.1 261.7,623.3 259.1,620.6 262.1,617.8 260.0,615.0 262.5,616.0 264.1,619.5 267.5,617.6 269.1,621.0 273.5,616.3 275.0,620.0 271.1,621.0 271.0,624.5 270.0,627.5 272.6,628.7 273.0,632.6 276.8,632.5 277.6,635.8 279.6,637.8 281.6,639.7 285.0,640.0 285.2,645.1 288.6,645.5 289.9,648.9 294.3,647.8 297.3,648.6 300.0,650.0 302.7,651.4 305.7,651.4 309.1,649.9 311.4,653.1 314.8,651.4 317.3,653.8 320.0,655.0 322.7,655.3 325.3,655.7 328.1,655.6 329.9,658.5 332.5,659.1 335.0,660.0 338.1,662.6 341.2,661.2 344.4,661.8 347.5,660.0 350.5,658.5 353.6,658.2 356.4,655.8 360.0,657.5 362.7,659.3 361.3,663.1 364.1,664.8 365.2,667.4 367.2,669.5 364.9,673.8 368.8,675.0 370.0,677.5 372.9,675.7 371.6,672.5 374.2,670.6 371.6,666.9 371.8,664.2 375.0,662.5 378.3,664.1 380.9,660.9 384.1,661.5 387.3,662.1 390.0,660.0 389.5,663.1 391.0,665.6 394.4,667.7 394.3,670.7 393.7,673.8 393.3,676.8 394.3,679.5 395.3,682.2 398.2,684.4 397.5,687.5 397.7,684.8 399.8,682.2 396.6,679.2 397.3,676.5 400.3,674.0 401.8,671.4 399.9,668.5 399.3,665.7 397.7,662.8 399.5,660.2 400.0,657.5 402.0,654.8 405.5,654.9 408.6,654.4 411.1,652.6 414.5,652.6 416.0,649.0 414.0,662.5 425.0,669.0 433.7,667.7 442.5,666.6 451.3,666.4 460.0,665.0 474.0,657.5 465.8,655.9 457.5,655.0 454.6,653.3 455.1,649.9 451.8,648.4 452.3,645.0 451.0,642.5 451.0,639.5 451.6,636.3 447.5,634.1 446.3,631.3 449.1,627.7 447.5,625.0 447.2,622.1 450.8,619.6 446.4,616.2 447.7,613.4 444.2,610.1 451.8,608.1 450.0,605.0 452.8,602.3 451.4,599.1 450.4,595.9 447.5,592.6 449.1,589.7 452.0,587.0 446.0,587.0 445.2,583.8 448.2,580.5 446.8,577.4 444.9,574.2 446.0,571.0 446.1,567.8 445.9,564.6 444.1,561.4 444.6,558.2 445.0,555.0 444.0,551.3 441.7,548.5 439.0,546.0 437.1,542.7 438.8,537.8 434.8,535.4 433.0,532.0 430.3,530.0 429.1,526.5 426.7,524.3 423.6,522.8 422.9,518.7 419.0,518.0 419.1,514.4 416.8,511.7 416.5,508.3 415.3,505.2 413.1,502.5 413.1,498.9 410.5,496.3 410.0,493.0 408.5,489.5 408.4,485.5 404.9,482.7 404.8,478.7 404.0,475.0 401.7,471.8 402.4,467.5 399.7,464.4 401.4,459.9 398.0,457.0 401.5,459.9 406.2,458.2 410.0,460.0 412.9,461.8 416.2,462.8 419.0,464.8 421.6,467.1 425.0,468.0 429.0,469.3 432.9,469.7 436.6,468.8 440.0,466.0 443.5,464.8 446.7,466.1 450.0,466.8 453.4,467.0 456.6,467.9 460.0,468.0 463.0,469.6 466.5,469.1 469.8,469.7 472.1,474.0 476.0,472.0 477.3,475.8 477.7,480.1 482.0,482.0 483.4,485.5 483.4,489.4 484.3,493.1 485.6,496.6 487.5,500.0 489.9,502.8 491.2,506.2 493.9,508.7 496.1,511.6 497.5,515.0 498.8,518.1 499.7,521.4 501.4,524.3 502.5,527.5 505.0,525.3 507.7,523.5 510.0,521.0 513.7,520.1 517.5,520.3 521.3,520.0 525.0,519.0 527.9,520.6 530.9,521.7 534.2,522.1 537.1,523.6 540.0,525.0 543.8,525.8 547.4,527.4 551.5,527.0 555.0,529.0 558.6,529.4 562.2,528.6 565.7,530.2 569.3,529.8 572.9,530.5 576.4,531.3 580.0,531.0 583.4,531.9 586.7,530.2 590.0,530.8 593.3,529.5 596.7,530.5 600.0,530.1 603.3,530.8 606.7,530.3 610.0,530.3 613.3,529.5 616.7,529.9 620.0,530.0 623.6,529.5 627.1,530.3 630.8,529.5 634.3,530.7 637.8,531.4 641.4,532.4 645.0,531.0 648.1,529.4 650.5,527.0 652.8,524.5 655.6,522.6 657.5,519.6 660.2,517.5 662.5,515.0 665.7,513.3 669.3,513.5 672.9,513.8 676.1,511.5 679.7,512.1 683.1,511.2 686.5,510.4 690.0,510.0 686.7,509.9 683.3,510.2 680.0,511.0 676.7,510.5 673.4,511.6 670.0,509.8 666.7,510.8 663.3,510.4 660.0,511.0 658.3,508.0 658.6,504.2 657.0,501.2 655.4,498.1 654.0,495.0 655.5,491.7 657.1,488.4 657.9,484.8 659.6,481.6 661.0,478.3 662.5,475.0 662.7,471.7 663.4,468.3 662.5,465.0 665.8,463.5 668.4,461.0 671.5,459.1 674.1,456.5 676.9,454.4 680.0,452.5 682.7,450.0 685.9,448.5 689.0,446.8 692.5,445.7 695.6,444.0 698.9,442.6 702.2,441.3 705.0,439.0 708.3,437.9 711.2,436.1 714.3,434.4 717.4,433.1 720.8,432.2 723.5,429.9 726.5,428.1 730.0,427.5 733.1,426.5 736.5,426.3 739.7,425.5 742.8,424.2 745.6,421.9 749.1,422.0 752.4,421.5 755.6,420.9 758.9,420.4 761.7,417.9 765.0,417.5 768.2,416.1 770.8,413.6 774.3,412.7 777.4,411.0 780.8,410.1 783.8,408.2 786.4,405.6 790.0,405.0 792.8,403.2 795.8,401.6 799.0,400.4 801.2,397.5 804.0,395.6 807.0,394.0 810.0,392.5 813.4,391.4 816.2,389.1 819.4,387.7 822.5,386.0 824.8,383.5 826.6,380.6 827.3,376.9 831.1,374.8 831.5,371.0 835.1,370.0 838.8,372.1 842.4,370.6 846.0,371.0 849.7,368.0 854.0,366.0 849.8,363.9 846.0,361.0 845.5,357.8 845.9,354.6 846.2,351.4 846.2,348.2 847.0,345.0 847.6,341.8 847.6,338.6 845.3,335.5 843.6,332.0 841.1,329.1 839.5,325.6 839.6,322.3 839.2,319.1 838.7,315.8 839.4,312.6 839.2,309.3 838.9,306.1 839.2,302.8 839.5,299.5 838.4,296.3 838.8,293.0 839.5,289.8 839.1,286.5 839.5,283.3 839.0,280.0 840.7,276.9 838.8,273.5 840.0,270.4 839.8,267.1 841.1,264.0 840.8,260.7 839.9,257.4 841.6,254.3 841.3,251.1 841.3,247.8 841.8,244.6 842.1,241.4 841.7,238.2 842.5,235.0 845.7,232.3 849.7,230.6 852.5,227.5 854.6,224.6 857.2,222.2 860.0,220.0 863.3,219.2 866.0,217.0 869.3,216.1 872.6,215.2 875.4,213.2 878.7,212.3 881.7,210.7 885.0,210.0 888.1,208.9 891.3,208.3 894.4,207.2 897.5,206.4 900.7,205.5 903.9,204.8 906.7,202.8 910.0,202.5 913.6,201.9 917.3,202.0 920.7,200.2 924.3,199.5 927.9,198.9 931.3,197.8 935.0,197.5 938.2,196.9 941.2,195.7 944.3,194.8 947.6,194.4 950.8,193.8 953.5,191.4 956.8,191.1Z"/>
<path d="M1811.0,1665.5 1816.0,1668.0 1816.4,1671.2 1816.3,1674.4 1817.9,1677.5 1817.4,1680.8 1817.1,1684.1 1818.2,1687.2 1817.2,1690.5 1820.7,1693.3 1820.0,1696.6 1821.4,1699.7 1821.0,1703.0 1822.3,1706.2 1821.9,1709.6 1821.7,1713.0 1821.8,1716.4 1822.0,1719.7 1820.2,1723.3 1822.3,1726.4 1825.6,1729.5 1823.7,1733.0 1825.1,1736.3 1825.3,1739.6 1823.4,1743.2 1825.6,1746.3 1828.1,1749.4 1826.0,1753.0 1825.9,1756.5 1826.9,1760.0 1828.2,1763.4 1828.1,1766.9 1828.0,1770.4 1827.5,1774.0 1828.3,1777.5 1827.9,1781.0 1826.0,1784.7 1828.5,1788.0 1830.1,1791.6 1830.7,1795.3 1830.7,1799.2 1831.0,1803.0 1829.0,1806.5 1830.6,1810.6 1827.4,1814.0 1828.5,1818.0 1828.2,1821.6 1826.3,1824.2 1823.6,1826.4 1822.8,1829.7 1820.8,1832.3 1818.0,1834.4 1816.1,1837.0 1815.0,1840.1 1813.5,1843.0 1813.6,1846.5 1811.3,1849.9 1812.2,1853.5 1812.8,1857.0 1810.7,1860.4 1813.1,1864.1 1811.5,1867.5 1810.7,1870.9 1811.3,1874.5 1811.0,1878.0 1811.1,1881.9 1809.3,1885.4 1809.8,1889.4 1808.5,1893.0 1807.1,1896.0 1805.5,1898.8 1801.2,1899.5 1801.0,1903.4 1798.5,1905.5 1800.0,1909.0 1803.2,1910.8 1806.0,1913.0 1804.3,1916.2 1801.3,1918.5 1799.7,1921.8 1797.9,1924.9 1796.0,1928.0 1796.7,1931.9 1793.9,1934.8 1791.9,1937.9 1791.4,1941.4 1791.0,1945.0 1787.2,1943.8 1783.5,1943.1 1779.8,1944.5 1776.0,1945.0 1777.9,1941.2 1773.1,1938.5 1774.2,1934.8 1770.9,1931.9 1773.5,1928.0 1770.6,1926.0 1767.1,1925.7 1764.5,1922.8 1760.5,1924.1 1756.6,1925.0 1754.7,1920.1 1751.0,1920.5 1747.7,1922.2 1744.3,1922.1 1741.0,1920.5 1739.8,1917.1 1739.8,1913.3 1737.4,1910.2 1737.2,1906.4 1736.0,1903.0 1736.3,1899.0 1741.8,1899.4 1742.2,1895.4 1744.4,1893.1 1747.0,1891.0 1748.5,1888.0 1745.2,1887.2 1741.9,1886.6 1738.3,1887.5 1735.1,1885.9 1731.9,1884.7 1728.7,1883.4 1725.1,1884.3 1721.9,1883.4 1718.5,1883.0 1719.7,1879.8 1720.9,1876.5 1721.3,1873.1 1721.5,1869.6 1722.0,1866.2 1724.9,1863.3 1724.7,1859.8 1725.2,1856.3 1726.0,1853.0 1730.1,1849.3 1726.5,1846.2 1726.2,1842.9 1725.1,1839.7 1723.3,1836.4 1725.7,1832.9 1723.9,1829.7 1723.8,1826.3 1723.5,1823.0 1722.3,1819.7 1720.1,1817.2 1717.2,1815.3 1714.8,1813.0 1714.5,1808.8 1710.9,1807.5 1707.2,1806.3 1706.0,1803.0 1708.8,1800.5 1710.2,1797.1 1712.0,1794.0 1714.7,1791.5 1716.0,1788.0 1714.2,1785.3 1714.0,1781.4 1710.2,1780.3 1708.2,1777.8 1706.0,1775.5 1709.5,1774.0 1710.5,1770.0 1713.5,1768.0 1718.5,1765.5 1720.3,1762.4 1719.4,1758.8 1720.0,1755.5 1723.8,1754.1 1725.0,1749.7 1728.5,1748.0 1727.7,1744.1 1726.0,1740.5 1728.1,1737.2 1731.8,1737.0 1735.0,1736.0 1738.3,1735.1 1741.0,1733.0 1744.9,1734.3 1747.9,1733.2 1749.8,1728.4 1753.1,1728.1 1756.5,1728.0 1760.1,1728.5 1762.8,1726.5 1765.2,1723.4 1769.0,1724.6 1771.5,1721.7 1775.0,1722.0 1778.6,1720.4 1782.3,1719.4 1786.2,1720.2 1790.0,1720.0 1794.3,1720.2 1795.3,1716.4 1797.4,1713.9 1800.0,1712.0 1803.7,1709.4 1800.6,1705.6 1801.6,1702.5 1802.0,1699.3 1803.4,1696.3 1803.5,1693.0 1803.5,1689.6 1806.1,1686.6 1804.4,1683.0 1805.9,1679.8 1805.9,1676.4 1806.0,1673.0 1807.6,1668.7Z"/>
<path d="M8.0,693.0 10.8,691.1 14.0,690.0 19.0,693.0 17.0,698.0 13.5,698.5 10.0,699.0 8.7,696.1Z" stroke-width="2.2" fill="#000"/>
<path d="M22.0,703.0 25.0,702.0 27.0,705.0 24.0,706.0Z" stroke-width="2.2" fill="#000"/>
<path d="M29.0,708.0 33.0,708.0 34.0,711.0 30.0,711.0Z" stroke-width="2.2" fill="#000"/>
<path d="M39.0,774.0 43.0,773.0 44.0,776.0 40.0,777.0Z" stroke-width="2.2" fill="#000"/>
<path d="M142.0,832.0 145.5,831.8 149.0,831.0 152.0,835.0 148.5,835.7 145.0,836.0Z" stroke-width="2.2" fill="#000"/>
<path d="M240.0,902.0 244.4,901.7 248.0,899.0 250.4,901.3 253.4,902.8 256.1,904.7 259.1,906.1 262.6,906.6 265.0,909.0 263.1,911.6 261.0,914.0 257.9,912.7 254.4,912.8 250.9,913.2 248.0,911.0 244.8,909.8 242.0,908.0 240.4,905.2Z" stroke-width="2.2"/>
<path d="M270.0,889.0 274.0,888.0 276.0,891.0 272.0,892.0Z" stroke-width="2.2" fill="#000"/>
<path d="M285.0,901.0 290.0,901.0 291.0,904.0 286.0,904.0Z" stroke-width="2.2" fill="#000"/>
<path d="M360.0,960.0 362.9,958.7 366.0,958.0 367.5,961.3 369.5,964.3 370.0,968.0 372.9,969.8 373.5,973.4 375.9,975.6 378.0,978.0 374.0,982.0 371.3,979.7 369.3,976.7 367.3,973.7 364.0,972.0 362.0,969.3 362.2,965.9 360.4,963.2Z" stroke-width="2.2"/>
<path d="M346.0,1015.0 349.1,1014.2 352.0,1013.0 354.6,1016.2 358.6,1017.1 362.0,1019.0 360.0,1022.0 356.7,1021.0 353.5,1019.5 350.0,1019.0Z" stroke-width="2.2"/>
<path d="M452.5,1102.5 455.7,1102.1 458.9,1102.9 462.0,1102.0 465.3,1103.7 468.0,1106.5 472.0,1106.8 475.0,1109.0 477.4,1111.2 479.5,1113.9 482.9,1114.9 485.0,1117.5 481.4,1117.4 478.0,1118.5 474.5,1117.8 471.6,1115.5 468.5,1113.9 465.0,1113.0 461.7,1111.3 458.8,1108.7 455.0,1108.0 454.7,1104.8Z" stroke-width="2.2"/>
<path d="M470.0,1137.5 474.2,1138.0 478.0,1140.0 479.7,1142.5 481.3,1145.1 483.7,1147.2 485.0,1150.0 487.0,1152.7 487.6,1156.2 490.5,1158.5 491.6,1161.7 493.7,1164.4 495.0,1167.5 493.9,1170.8 492.9,1174.1 492.5,1177.5 491.2,1174.6 489.3,1172.1 486.3,1170.3 484.6,1167.7 483.0,1165.0 481.0,1162.2 479.5,1159.1 478.3,1155.9 476.5,1153.0 475.0,1150.0 473.3,1147.1 472.1,1143.9 472.8,1140.0Z" stroke-width="2.2"/>
<path d="M413.0,614.0 416.5,613.8 420.0,613.0 423.0,617.0 419.5,618.2 416.0,619.0Z" stroke-width="2.2" fill="#000"/>
<path d="M1437.0,1665.0 1439.7,1662.6 1443.0,1661.0 1446.0,1660.7 1449.0,1660.0 1446.0,1664.0 1442.7,1665.5 1440.0,1668.0Z" stroke-width="2.2" fill="#000"/>
<path d="M1409.0,1667.0 1414.0,1666.0 1415.0,1669.0 1410.0,1670.0Z" stroke-width="2.2" fill="#000"/>
<path d="M1452.0,1662.0 1457.0,1661.0 1458.0,1664.0 1453.0,1665.0Z" stroke-width="2.2" fill="#000"/>
</g>
<g fill="#000">
<ellipse cx="1471.0" cy="1621.1" rx="1.3" ry="1.5" transform="rotate(7 1471.0 1621.1)"/>
<ellipse cx="1476.8" cy="1617.6" rx="2.9" ry="1.0" transform="rotate(40 1476.8 1617.6)"/>
<ellipse cx="1473.6" cy="1639.3" rx="1.5" ry="1.0" transform="rotate(56 1473.6 1639.3)"/>
<ellipse cx="1450.8" cy="1646.4" rx="2.6" ry="1.4" transform="rotate(57 1450.8 1646.4)"/>
<ellipse cx="1404.6" cy="1672.0" rx="1.5" ry="1.4" transform="rotate(7 1404.6 1672.0)"/>
<ellipse cx="1350.3" cy="1646.2" rx="3.2" ry="1.8" transform="rotate(51 1350.3 1646.2)"/>
<ellipse cx="1338.8" cy="1635.9" rx="1.4" ry="1.0" transform="rotate(138 1338.8 1635.9)"/>
<ellipse cx="493.9" cy="1178.1" rx="3.0" ry="1.8" transform="rotate(156 493.9 1178.1)"/>
<ellipse cx="516.2" cy="1189.7" rx="1.7" ry="1.4" transform="rotate(106 516.2 1189.7)"/>
<ellipse cx="513.4" cy="1193.9" rx="2.3" ry="1.9" transform="rotate(124 513.4 1193.9)"/>
<ellipse cx="502.0" cy="1187.5" rx="2.9" ry="1.8" transform="rotate(71 502.0 1187.5)"/>
<ellipse cx="498.6" cy="1179.2" rx="1.3" ry="1.1" transform="rotate(29 498.6 1179.2)"/>
<ellipse cx="495.9" cy="1171.9" rx="1.4" ry="1.3" transform="rotate(5 495.9 1171.9)"/>
<ellipse cx="504.2" cy="1164.7" rx="1.9" ry="1.0" transform="rotate(153 504.2 1164.7)"/>
<ellipse cx="520.2" cy="1161.8" rx="1.7" ry="1.8" transform="rotate(29 520.2 1161.8)"/>
<ellipse cx="514.8" cy="1153.0" rx="1.5" ry="1.5" transform="rotate(5 514.8 1153.0)"/>
<ellipse cx="503.1" cy="1132.6" rx="2.8" ry="1.3" transform="rotate(40 503.1 1132.6)"/>
<ellipse cx="488.3" cy="1113.9" rx="1.7" ry="1.7" transform="rotate(172 488.3 1113.9)"/>
<ellipse cx="370.9" cy="987.6" rx="2.8" ry="1.7" transform="rotate(86 370.9 987.6)"/>
<ellipse cx="376.7" cy="920.6" rx="2.3" ry="1.9" transform="rotate(78 376.7 920.6)"/>
<ellipse cx="325.0" cy="898.0" rx="2.3" ry="1.5" transform="rotate(3 325.0 898.0)"/>
<ellipse cx="330.7" cy="891.8" rx="2.8" ry="1.1" transform="rotate(85 330.7 891.8)"/>
<ellipse cx="332.3" cy="889.5" rx="2.8" ry="1.0" transform="rotate(101 332.3 889.5)"/>
<ellipse cx="334.7" cy="874.7" rx="2.2" ry="1.5" transform="rotate(137 334.7 874.7)"/>
<ellipse cx="335.8" cy="879.5" rx="2.2" ry="1.7" transform="rotate(81 335.8 879.5)"/>
<ellipse cx="327.9" cy="875.1" rx="2.6" ry="1.9" transform="rotate(170 327.9 875.1)"/>
<ellipse cx="326.9" cy="874.1" rx="2.9" ry="1.1" transform="rotate(22 326.9 874.1)"/>
<ellipse cx="336.2" cy="877.0" rx="1.3" ry="1.6" transform="rotate(141 336.2 877.0)"/>
<ellipse cx="322.0" cy="873.7" rx="1.5" ry="1.9" transform="rotate(174 322.0 873.7)"/>
<ellipse cx="318.2" cy="874.0" rx="2.2" ry="2.0" transform="rotate(150 318.2 874.0)"/>
<ellipse cx="308.1" cy="862.1" rx="1.9" ry="1.1" transform="rotate(57 308.1 862.1)"/>
<ellipse cx="308.3" cy="859.6" rx="1.2" ry="1.3" transform="rotate(112 308.3 859.6)"/>
<ellipse cx="306.0" cy="869.8" rx="2.8" ry="2.0" transform="rotate(19 306.0 869.8)"/>
<ellipse cx="316.1" cy="856.7" rx="1.7" ry="1.0" transform="rotate(76 316.1 856.7)"/>
<ellipse cx="292.5" cy="862.5" rx="2.3" ry="1.7" transform="rotate(16 292.5 862.5)"/>
<ellipse cx="289.4" cy="854.8" rx="1.3" ry="1.9" transform="rotate(114 289.4 854.8)"/>
<ellipse cx="283.7" cy="860.2" rx="2.9" ry="1.4" transform="rotate(61 283.7 860.2)"/>
<ellipse cx="274.9" cy="863.1" rx="1.7" ry="1.0" transform="rotate(29 274.9 863.1)"/>
<ellipse cx="275.7" cy="861.8" rx="1.8" ry="1.7" transform="rotate(52 275.7 861.8)"/>
<ellipse cx="271.9" cy="857.8" rx="1.2" ry="1.2" transform="rotate(3 271.9 857.8)"/>
<ellipse cx="164.1" cy="820.5" rx="2.2" ry="1.8" transform="rotate(71 164.1 820.5)"/>
<ellipse cx="135.7" cy="799.8" rx="2.7" ry="1.2" transform="rotate(29 135.7 799.8)"/>
<ellipse cx="137.7" cy="801.1" rx="2.5" ry="1.2" transform="rotate(44 137.7 801.1)"/>
<ellipse cx="97.8" cy="811.0" rx="2.2" ry="1.1" transform="rotate(91 97.8 811.0)"/>
<ellipse cx="100.8" cy="812.0" rx="2.0" ry="0.9" transform="rotate(4 100.8 812.0)"/>
<ellipse cx="89.7" cy="652.8" rx="2.5" ry="1.7" transform="rotate(146 89.7 652.8)"/>
<ellipse cx="119.6" cy="654.1" rx="1.9" ry="1.0" transform="rotate(150 119.6 654.1)"/>
<ellipse cx="161.2" cy="661.4" rx="2.2" ry="1.5" transform="rotate(119 161.2 661.4)"/>
<ellipse cx="157.7" cy="660.7" rx="1.3" ry="1.2" transform="rotate(131 157.7 660.7)"/>
<ellipse cx="162.3" cy="659.7" rx="2.2" ry="1.3" transform="rotate(86 162.3 659.7)"/>
<ellipse cx="163.8" cy="660.7" rx="2.7" ry="1.2" transform="rotate(102 163.8 660.7)"/>
<ellipse cx="177.5" cy="646.3" rx="2.5" ry="1.7" transform="rotate(122 177.5 646.3)"/>
<ellipse cx="188.0" cy="647.8" rx="2.1" ry="1.0" transform="rotate(161 188.0 647.8)"/>
<ellipse cx="199.2" cy="647.6" rx="1.2" ry="1.4" transform="rotate(148 199.2 647.6)"/>
<ellipse cx="190.7" cy="650.1" rx="1.6" ry="1.5" transform="rotate(26 190.7 650.1)"/>
<ellipse cx="193.0" cy="636.9" rx="3.0" ry="1.7" transform="rotate(42 193.0 636.9)"/>
<ellipse cx="193.8" cy="628.1" rx="2.1" ry="1.2" transform="rotate(25 193.8 628.1)"/>
<ellipse cx="219.0" cy="619.0" rx="1.4" ry="1.9" transform="rotate(128 219.0 619.0)"/>
<ellipse cx="226.2" cy="620.7" rx="3.2" ry="1.5" transform="rotate(65 226.2 620.7)"/>
<ellipse cx="220.2" cy="624.2" rx="2.9" ry="1.2" transform="rotate(168 220.2 624.2)"/>
<ellipse cx="245.8" cy="627.2" rx="1.6" ry="1.3" transform="rotate(172 245.8 627.2)"/>
<ellipse cx="262.3" cy="631.8" rx="2.7" ry="1.6" transform="rotate(52 262.3 631.8)"/>
<ellipse cx="262.3" cy="637.0" rx="2.1" ry="1.3" transform="rotate(54 262.3 637.0)"/>
<ellipse cx="260.6" cy="630.5" rx="2.3" ry="1.3" transform="rotate(30 260.6 630.5)"/>
<ellipse cx="251.6" cy="634.8" rx="2.2" ry="1.1" transform="rotate(163 251.6 634.8)"/>
<ellipse cx="256.9" cy="635.2" rx="1.9" ry="1.0" transform="rotate(43 256.9 635.2)"/>
<ellipse cx="251.7" cy="625.8" rx="2.7" ry="1.4" transform="rotate(74 251.7 625.8)"/>
<ellipse cx="280.9" cy="627.0" rx="1.5" ry="1.5" transform="rotate(113 280.9 627.0)"/>
<ellipse cx="276.7" cy="627.7" rx="2.0" ry="1.4" transform="rotate(172 276.7 627.7)"/>
<ellipse cx="275.0" cy="622.4" rx="3.0" ry="1.4" transform="rotate(106 275.0 622.4)"/>
<ellipse cx="295.6" cy="636.8" rx="2.9" ry="1.8" transform="rotate(175 295.6 636.8)"/>
<ellipse cx="288.6" cy="638.2" rx="2.2" ry="1.7" transform="rotate(169 288.6 638.2)"/>
<ellipse cx="356.5" cy="654.1" rx="3.0" ry="1.6" transform="rotate(55 356.5 654.1)"/>
<ellipse cx="349.3" cy="652.9" rx="2.6" ry="1.0" transform="rotate(13 349.3 652.9)"/>
<ellipse cx="368.3" cy="668.4" rx="1.8" ry="1.4" transform="rotate(173 368.3 668.4)"/>
<ellipse cx="362.9" cy="671.0" rx="2.6" ry="1.2" transform="rotate(4 362.9 671.0)"/>
<ellipse cx="394.8" cy="659.7" rx="2.0" ry="1.7" transform="rotate(36 394.8 659.7)"/>
<ellipse cx="395.4" cy="658.0" rx="2.8" ry="1.2" transform="rotate(40 395.4 658.0)"/>
<ellipse cx="401.1" cy="651.0" rx="2.5" ry="1.9" transform="rotate(26 401.1 651.0)"/>
<ellipse cx="414.0" cy="646.2" rx="1.3" ry="1.0" transform="rotate(71 414.0 646.2)"/>
<ellipse cx="443.8" cy="631.8" rx="1.9" ry="1.3" transform="rotate(30 443.8 631.8)"/>
<ellipse cx="445.3" cy="638.5" rx="3.1" ry="1.0" transform="rotate(174 445.3 638.5)"/>
<ellipse cx="446.1" cy="595.9" rx="3.0" ry="1.1" transform="rotate(66 446.1 595.9)"/>
<ellipse cx="443.1" cy="596.7" rx="2.7" ry="0.9" transform="rotate(6 443.1 596.7)"/>
</g>
<g fill="none" stroke="#000" stroke-width="2.5" stroke-linejoin="round" stroke-linecap="round">
<path d="M822.5,386.0 825.4,388.0 826.6,391.1 828.5,393.7 830.0,396.6 830.6,400.1 835.2,401.0 835.0,405.0 837.8,406.8 840.4,408.8 843.3,410.5 845.1,413.5 847.5,415.7 847.8,420.4 852.5,420.0 853.2,423.0 854.7,425.7 854.6,429.0 858.1,430.9 858.6,434.0 858.2,437.4 860.0,440.0 862.6,442.6 865.1,445.3 866.0,449.0 863.2,450.7 860.0,451.0 860.7,454.5 856.5,456.2 855.4,459.1 856.0,462.5 854.9,467.9 860.0,470.0 859.6,473.1 858.7,476.1 857.9,479.1 856.1,481.8 856.0,485.0 855.9,488.1 854.7,491.2 856.0,494.4 857.4,497.6 853.2,500.5 855.9,503.8 853.6,506.8 855.0,510.0 855.7,513.1 855.3,516.4 857.9,519.4 857.2,522.6 855.6,525.9 855.6,529.1 856.9,532.3 856.6,535.5 859.5,538.5 857.2,541.8 857.5,545.0"/>
<path d="M857.5,545.0 857.8,548.7 854.5,551.1 852.5,553.9 853.1,557.8 852.9,561.3 850.1,563.8 848.2,566.6 847.5,570.0 844.1,570.7 843.5,575.1 841.0,577.0 836.9,576.7 834.6,578.9 831.3,579.6 829.2,582.1 827.5,585.0 827.6,588.0 827.9,591.0 824.0,594.0 827.9,597.0 827.5,600.0 828.8,603.4 828.0,607.0"/>
<path d="M828.0,607.0 828.3,611.7 825.0,615.0 822.3,617.3 820.3,620.3 818.0,623.0 815.0,625.0 811.7,626.1 809.9,629.1 807.7,631.5 803.4,631.5 802.9,635.9 800.0,637.5 796.7,638.7 793.7,638.3 790.9,636.7 788.1,634.6 785.0,635.0 781.5,635.5 778.3,636.6 774.9,637.3 772.0,638.9 770.0,642.5 766.4,642.5 762.9,642.4 759.8,644.1 756.8,646.5 753.0,645.5 750.0,647.5 748.2,650.8 746.9,654.3 745.0,657.5 743.7,661.7 746.5,664.2 749.3,666.7 750.0,670.0 752.4,672.1 752.5,676.6 757.2,676.1 758.6,679.1 761.1,681.1 764.0,682.5 763.0,685.8 762.6,689.1 763.8,692.5 763.6,695.9 762.9,699.2 762.5,702.5 760.3,704.8 756.8,705.6 753.6,706.8 753.2,711.4 750.0,712.5 746.8,713.7 745.2,717.3 742.2,718.8 739.0,720.0 740.1,723.1 740.5,726.3 742.1,729.2 742.5,732.5 747.4,733.8 744.6,739.8 748.4,741.7 750.0,745.0"/>
<path d="M828.0,607.0 831.5,608.4 835.0,610.0 834.3,614.2 838.5,616.6 841.0,619.7 840.0,624.0 840.0,627.0 839.8,630.1 840.5,633.1 840.7,636.1 841.9,639.0 842.8,641.9 842.5,645.0 844.6,647.4 845.2,650.6 846.6,653.3 846.2,656.8 847.9,659.5 851.4,661.2 850.3,665.1 852.5,667.5 854.9,669.6 856.5,672.8 858.6,675.2 861.9,676.2 865.0,677.5 868.6,678.7 867.7,683.1 872.0,683.8 870.3,688.8 874.5,689.6 875.8,692.4 877.5,695.0 879.8,698.7 884.0,697.5 887.5,699.6 886.8,703.8 889.7,706.3 890.0,710.0 890.1,713.1 889.9,716.2 887.4,718.8 888.3,722.0 887.5,725.0 890.5,725.4 893.6,725.6 896.4,722.2 899.6,726.3 902.5,724.0 905.5,722.2 907.8,718.9 911.5,718.5 915.0,717.5 917.8,719.3 920.7,720.0 924.1,718.2 927.0,719.8 930.0,720.0 933.2,721.3 936.3,723.2 940.0,722.5 942.0,725.0 942.8,728.4 946.8,729.3 948.7,732.0 950.0,735.0 951.0,738.7 952.8,741.8 955.5,744.4 957.5,747.5 954.8,749.2 953.2,751.8 950.6,753.6 948.2,755.5 947.5,759.0 950.7,759.0 953.8,758.6 956.4,756.2 959.3,755.2 962.5,755.0 966.6,753.1 968.5,757.7 971.8,758.2 975.0,759.0 978.4,758.5 980.0,754.2 983.8,754.6 986.8,753.2 990.0,752.5 993.8,752.3 995.0,756.0 998.5,756.1 1001.7,755.3 1003.4,750.9 1007.3,751.9 1010.0,750.0"/>
<path d="M857.5,545.0 856.5,548.4 857.5,551.5 861.2,554.0 860.0,557.5 863.8,555.9 866.3,559.1 869.1,561.1 872.5,561.0 875.5,560.1 878.2,557.7 881.5,558.3 885.1,560.2 887.4,555.8 891.1,558.4 894.0,557.0 897.1,556.3 900.0,555.0 903.0,556.7 906.5,555.6 909.6,556.9 912.2,560.1 916.0,557.9 919.2,558.5 922.7,557.9 925.6,559.8 928.4,562.1 931.5,563.5 935.0,562.5 937.3,564.6 940.1,566.0 942.8,567.3 945.7,568.4 948.0,570.5 951.4,570.5 953.4,573.3 956.9,573.3 960.5,572.9 963.0,574.6 965.0,577.5 968.3,577.2 971.7,576.9 975.0,577.5 978.6,578.9 980.0,582.5 982.7,580.0 986.4,579.5 989.6,578.1 992.5,576.0 995.9,577.4 999.6,575.5 1003.0,577.4 1006.4,578.6 1010.0,577.5 1013.2,577.0 1016.7,577.7 1018.8,573.9 1022.0,573.5 1025.0,572.5 1028.3,573.6 1031.8,573.7 1035.0,575.0 1036.3,578.1 1037.2,581.4 1038.8,584.4 1040.0,587.5 1043.0,589.5 1045.4,592.1 1047.6,594.9 1051.4,596.1 1052.5,600.0 1054.4,602.7 1057.8,604.1 1059.0,607.3 1061.9,609.1 1062.8,612.6 1065.0,615.0 1068.3,615.8 1071.4,617.2 1074.7,617.8 1077.5,620.0"/>
<path d="M1170.0,411.0 1169.8,414.2 1170.0,417.5 1170.5,420.5 1171.1,423.5 1172.3,426.4 1171.8,429.5 1172.5,432.5 1170.9,435.8 1167.8,438.5 1167.5,442.5 1170.5,445.7 1171.0,450.0 1166.1,450.1 1169.7,458.0 1164.1,457.4 1161.0,459.2 1159.8,462.7 1158.1,465.7 1155.0,467.5 1152.6,469.7 1149.4,471.0 1146.4,472.6 1145.0,476.0 1147.7,478.9 1145.8,482.5 1147.6,485.5 1145.8,489.1 1148.5,492.0 1148.2,495.4 1147.4,498.8 1149.9,501.7 1150.0,505.0 1148.9,508.3 1149.5,512.0 1148.0,515.1 1149.4,519.0 1147.1,522.0 1145.0,525.0 1141.6,524.9 1138.4,524.2 1136.5,519.4 1131.5,524.4 1128.4,523.4 1126.3,519.2 1123.3,517.7 1120.0,517.5 1119.9,521.8 1120.0,526.0 1116.6,525.7 1113.3,525.6 1111.9,530.1 1109.5,532.4 1106.1,532.0 1102.6,531.3 1100.1,533.4 1097.5,535.0 1098.6,538.1 1098.6,541.5 1099.4,544.7 1102.8,547.3 1100.6,551.2 1103.0,554.0 1102.5,557.5 1106.4,558.8 1110.0,561.0 1107.3,563.1 1104.0,563.6 1100.5,563.8 1098.2,566.6 1095.0,567.5 1094.1,570.4 1092.2,573.0 1092.0,576.1 1092.7,579.5 1089.9,581.8 1090.0,585.0 1093.6,586.1 1096.9,587.9 1100.0,590.0 1098.0,593.0 1094.5,595.2 1095.5,600.1 1092.5,602.5 1090.9,605.4 1088.1,607.4 1087.1,610.9 1083.9,612.5 1080.5,613.9 1081.6,619.2 1077.5,620.0"/>
<path d="M1077.5,620.0 1076.3,623.1 1072.6,624.3 1072.5,628.3 1068.9,629.5 1067.5,632.5 1070.5,634.8 1069.5,639.0 1072.1,641.5 1071.8,645.4 1075.0,647.5 1075.6,650.7 1078.1,652.8 1080.0,655.2 1080.7,658.4 1082.9,660.7 1085.4,662.8 1086.0,666.0 1083.1,667.8 1083.7,673.0 1079.1,673.2 1074.7,673.5 1073.9,677.4 1073.5,681.6 1068.8,681.6 1067.5,685.0 1066.9,688.2 1067.6,691.5 1067.2,694.7 1065.9,697.8 1064.6,700.9 1065.5,704.3 1065.0,707.5"/>
<path d="M1065.0,707.5 1062.5,710.5 1059.1,709.1 1055.8,708.4 1053.1,710.4 1050.0,710.5 1047.4,713.4 1044.1,712.4 1041.1,713.2 1037.7,712.1 1035.0,714.0 1031.8,715.3 1028.8,717.0 1026.1,719.4 1022.5,720.0 1023.3,723.5 1021.7,726.7 1019.4,729.8 1023.5,733.7 1024.3,737.2 1020.0,740.0 1015.5,740.5 1013.4,743.4 1011.8,746.8 1010.0,750.0"/>
<path d="M1065.0,707.5 1067.6,709.7 1070.2,712.1 1074.2,711.6 1076.7,714.2 1080.0,715.0 1083.0,716.6 1083.2,720.1 1086.2,721.7 1086.5,725.1 1088.4,727.4 1090.0,730.0 1089.5,733.2 1091.4,735.9 1092.6,738.8 1093.1,741.8 1092.5,745.0 1096.5,746.0 1096.0,751.5 1101.7,750.8 1102.5,755.0 1105.6,757.0 1108.2,759.6 1112.0,760.5 1115.0,762.5 1118.2,764.5 1117.8,768.6 1118.3,772.2 1120.1,775.1 1124.9,776.2 1125.0,780.0 1126.8,782.7 1128.1,785.7 1128.1,789.8 1132.9,790.1 1135.0,792.5 1138.0,792.8 1141.1,794.3 1143.9,790.3 1147.0,791.5 1149.9,789.3 1153.0,791.2 1156.0,790.5 1159.0,790.6 1162.1,792.3 1165.0,791.0 1168.2,792.5 1171.6,792.7 1175.0,792.5 1177.9,791.2 1180.8,789.8 1183.4,787.8 1187.2,789.0 1190.0,787.5 1193.6,787.8 1196.9,785.9 1200.3,784.7 1203.8,784.2 1207.5,785.0 1210.7,782.5 1213.8,780.1 1215.0,776.0 1217.9,777.5 1221.1,775.2 1224.1,776.0 1227.1,775.9 1230.0,777.5 1232.4,781.0 1236.3,781.5 1240.0,782.5 1242.9,784.8 1242.4,788.8 1244.1,791.7 1245.7,794.6 1247.5,797.5 1249.8,799.5 1253.1,800.0 1255.0,802.5 1256.8,805.8 1255.2,809.6 1253.7,813.4 1258.6,816.3 1257.5,820.0 1255.0,825.0 1258.4,826.4 1258.3,830.5 1262.5,831.3 1266.0,832.6 1265.0,837.5 1268.5,837.7 1271.3,840.5 1274.6,841.5 1278.1,841.9 1281.9,840.7 1285.0,842.5 1286.9,844.9 1289.8,846.2 1292.1,848.3 1293.2,851.5 1296.9,852.0 1297.0,856.3 1300.0,857.5 1303.0,856.0 1305.6,854.1 1307.9,851.7 1309.4,848.4 1314.5,849.4 1315.0,845.0 1319.2,846.3 1320.6,841.9 1323.5,840.7 1326.1,838.7 1329.1,837.6 1332.7,837.5 1335.0,835.0 1337.4,837.8 1341.3,836.2 1344.4,836.9 1347.5,837.4 1350.0,840.0 1350.3,837.0 1350.4,833.9 1351.7,831.0 1352.3,828.0 1352.5,825.0 1351.6,821.0 1353.9,818.3 1356.9,815.9 1357.5,812.5 1359.3,809.9 1362.0,808.4 1365.0,807.5 1365.1,803.5 1370.1,803.4 1371.5,800.4 1372.7,797.2 1375.0,795.0 1378.3,793.3 1381.5,791.5 1382.5,787.5 1386.7,787.4 1388.5,783.3 1391.8,781.8 1395.0,780.0 1398.2,780.2 1401.4,781.0 1404.2,776.5 1407.5,779.0 1409.9,781.9 1414.1,783.2 1415.0,787.5 1418.0,789.4 1421.3,787.8 1424.3,789.4 1427.5,788.3 1430.4,791.3 1433.6,790.6 1437.0,788.9 1440.0,790.0 1443.4,788.0 1446.2,791.4 1449.3,791.8 1452.5,790.8 1455.7,791.3 1458.8,791.0 1461.7,793.8 1465.0,792.5 1466.1,795.9 1470.2,795.6 1472.7,797.3 1473.9,800.7 1478.1,800.1 1479.2,803.6 1481.3,805.8 1483.8,807.5 1485.8,810.0 1486.2,813.9 1490.0,815.0 1493.6,815.9 1495.5,819.6 1498.8,820.9 1502.0,822.5 1504.7,824.0 1506.8,826.6 1509.8,827.8 1512.3,829.7 1515.7,830.3 1518.0,832.5 1518.8,835.9 1515.0,838.6 1514.9,841.9 1515.5,845.3 1516.4,848.7 1513.9,851.6 1514.5,855.0 1518.7,854.8 1521.4,857.8 1524.5,860.0 1526.2,863.1 1528.4,865.9 1531.7,868.1 1531.0,872.5"/>
<path d="M1010.0,750.0 1013.8,750.7 1017.6,751.4 1020.0,755.0 1022.5,757.5 1022.2,760.9 1026.4,762.9 1021.3,767.9 1025.0,770.0 1027.6,772.4 1029.5,775.5 1032.5,777.5 1031.5,780.4 1029.4,782.8 1029.8,786.2 1027.3,788.6 1026.3,791.5 1025.4,794.4 1025.0,797.5 1022.9,799.7 1019.1,799.5 1017.5,802.5 1016.8,806.0 1016.0,809.4 1015.5,812.9 1013.9,816.3 1015.0,820.0 1012.8,823.0 1008.4,821.7 1005.8,824.1 1003.6,827.2 1000.0,827.5 999.1,831.3 1000.4,834.5 1002.5,837.5 1004.5,840.0 1007.6,841.7 1009.0,844.6 1011.2,846.9 1012.5,850.0 1009.2,852.3 1011.2,856.7 1007.9,859.1 1007.5,862.5 1004.8,866.8 1000.0,865.0 1001.5,868.0 1001.9,871.7 1005.2,873.6 1008.8,875.5 1008.8,879.3 1010.0,882.5 1008.5,885.6 1008.3,889.1 1007.2,892.3 1005.8,895.4 1004.8,898.6 1005.0,902.3 1002.5,905.0 1004.2,907.8 1005.8,910.7 1007.9,913.2 1011.8,914.2 1012.9,917.5 1015.0,920.0 1013.7,923.5 1018.1,925.6 1016.5,929.2 1018.6,931.8 1017.5,935.3 1019.3,938.1 1018.7,941.4 1019.7,944.3 1021.8,947.0 1022.5,950.0 1022.1,953.2 1023.4,956.2 1022.1,959.5 1023.9,962.5 1025.5,965.5 1025.0,968.7 1022.8,972.1 1025.0,975.0 1023.5,978.0 1023.5,981.2 1024.0,984.5 1024.5,987.9 1021.5,990.5 1021.0,993.7 1022.6,997.3 1020.0,1000.0"/>
<path d="M1020.0,1000.0 1016.4,999.9 1014.8,1003.9 1011.3,1004.0 1009.9,1008.3 1005.8,1007.2 1002.0,1006.9 1000.0,1010.0 996.4,1008.4 994.1,1012.8 990.8,1012.6 987.5,1012.5 984.4,1013.5 982.0,1017.3 977.7,1012.1 975.0,1015.0 971.8,1016.8 969.5,1019.5 966.5,1021.5 965.0,1025.0 967.1,1028.1 968.1,1031.8 970.0,1035.0 968.3,1038.0 967.7,1041.3 968.8,1044.9 967.5,1048.0 965.5,1051.0 961.6,1050.2 959.0,1051.9 957.2,1055.1 953.0,1053.9 950.6,1055.9 948.0,1057.6 945.4,1059.5 942.4,1060.4 940.0,1062.5 935.9,1062.7 934.0,1066.6 929.6,1066.4 927.5,1070.0"/>
<path d="M927.5,1070.0 924.2,1069.1 921.0,1068.5 917.9,1071.4 914.7,1071.7 911.4,1070.2 908.1,1068.5 905.0,1071.0 902.0,1069.8 898.5,1071.2 895.4,1070.1 892.5,1068.5 889.6,1066.6 886.3,1067.2 883.0,1067.1 880.0,1066.0 876.6,1065.9 873.4,1065.1 870.0,1065.0 868.1,1067.6 865.0,1068.7 862.3,1070.3 860.0,1072.5 857.1,1070.0 853.9,1072.0 851.0,1070.4 847.7,1072.7 844.8,1069.9 841.7,1070.6 838.6,1071.2 835.6,1070.3 832.5,1070.0 829.1,1071.6 827.8,1075.3 824.0,1076.5 821.0,1078.5 820.0,1082.5 818.0,1078.7 814.9,1076.9 809.8,1078.3 807.5,1075.0 804.3,1075.1 801.4,1077.1 797.9,1075.6 795.0,1077.5 793.2,1074.3 791.5,1071.1 789.9,1067.8 787.5,1065.0 785.8,1062.2 785.7,1058.9 783.6,1056.3 786.2,1052.1 782.5,1050.0 779.0,1049.7 775.9,1048.3 772.5,1047.5 768.4,1046.6 766.2,1043.8 764.2,1040.8 762.5,1037.5 762.3,1034.0 761.0,1030.9 759.1,1028.0 757.5,1025.0 755.7,1022.4 757.7,1018.4 753.1,1016.9 752.2,1014.0 752.8,1010.5 749.9,1008.3 750.0,1005.0 747.8,1002.2 745.9,999.1 742.5,997.5 740.0,995.0 738.6,991.6 736.3,988.7 733.7,986.1 732.5,982.5 727.1,981.5 727.4,977.1 726.9,973.1 725.0,970.0 722.2,972.9 718.5,972.3 715.0,972.5 711.9,972.7 708.7,971.7 706.3,975.7 703.1,975.1 700.0,975.0 696.5,974.7 693.0,974.3 689.5,976.8 686.0,972.5 682.5,975.0 681.5,972.0 684.0,969.0 682.5,966.0 681.5,962.4 681.4,958.5 680.0,955.0 677.0,951.6 672.5,952.5 670.6,949.8 667.6,948.6 664.2,947.9 662.5,945.0 659.4,943.1 656.2,941.3 656.9,935.6 652.5,935.0"/>
<path d="M652.5,935.0 653.2,931.7 652.3,928.3 652.5,925.0 657.8,922.8 654.2,919.1 654.3,916.0 655.1,913.1 655.0,910.0 655.6,907.0 656.6,904.1 659.4,902.1 659.4,898.7 662.3,896.7 662.2,893.4 661.5,889.7 663.3,887.2 665.1,884.7 667.5,882.5 665.5,878.7 668.8,876.0 669.2,872.8 671.6,869.9 669.9,866.2 671.5,863.1 672.5,860.0 675.6,859.9 678.6,859.3 680.9,856.1 684.8,858.7 686.8,855.0 690.0,855.0 693.6,854.9 695.2,851.5 697.9,849.7 700.0,847.1 703.5,846.9 708.1,848.4 708.6,843.1 712.9,844.2 715.5,842.3 717.0,838.6 720.0,837.5 723.0,835.4 725.0,832.6 724.6,828.5 726.0,825.5 729.7,823.7 730.0,820.0 732.8,818.5 736.8,818.7 737.9,814.9 740.0,812.5 738.4,809.5 739.9,806.5 738.3,803.5 741.1,800.5 740.0,797.5 742.8,795.6 743.5,792.1 745.0,789.2 749.0,788.3 750.0,785.0 749.2,781.9 751.1,778.6 747.7,775.8 748.4,772.5 747.7,769.5 746.7,766.4 751.7,762.7 747.5,760.0 751.9,760.5 753.8,755.9 757.5,755.0 756.5,751.8 751.7,751.5 753.3,746.4 750.0,745.0"/>
<path d="M750.0,745.0 745.0,747.5 745.3,743.2 739.8,743.4 739.3,739.7 736.7,737.7 735.0,735.0 732.0,736.4 728.8,736.3 725.7,736.4 722.5,736.0 719.2,735.8 715.9,734.8 712.5,735.0 710.9,731.7 707.7,730.3 706.0,727.2 702.5,726.0 700.4,723.4 697.6,721.5 694.8,719.7 691.6,718.2 690.0,715.0 686.2,714.9 684.9,711.4 682.3,709.6 680.2,707.2 677.7,705.3 673.9,705.2 671.9,702.7 670.0,700.0 666.6,700.0 665.1,696.1 661.7,696.1 659.1,694.5 655.8,694.3 652.8,693.4 650.5,691.2 648.1,689.3 645.7,687.3 641.8,688.3 640.0,685.0 637.0,683.5 633.3,683.9 630.4,682.4 627.3,681.0 624.1,680.0 621.4,677.8 618.5,676.1 615.0,676.0 612.2,678.4 610.6,681.9 607.5,684.0 604.6,687.2 602.5,691.0 599.6,689.6 596.8,688.0 593.6,687.8 589.8,689.1 587.5,686.0 585.2,688.6 582.2,689.8 578.5,689.9 576.4,692.7 572.9,693.2 570.5,695.5 568.7,698.8 565.0,699.0 563.7,695.8 562.5,692.5 559.0,693.8 556.0,695.9 554.2,699.9 550.0,700.0 547.8,697.9 544.5,697.2 540.8,697.1 539.5,693.7 535.9,693.5 534.0,691.0 533.5,686.3 530.0,686.0 526.7,682.8 523.3,684.7 520.0,685.5 516.7,683.6 513.3,685.6 510.0,686.0"/>
<path d="M510.0,686.0 506.7,686.1 503.2,687.5 500.7,682.5 497.8,679.7 494.0,682.8 491.0,681.1 487.5,682.5 483.7,683.3 481.7,686.1 479.2,688.3 476.3,690.2 475.2,694.0 472.5,696.0 468.4,696.3 465.3,694.8 464.0,690.1 460.8,688.6 457.5,687.5 456.7,684.3 452.8,681.8 455.0,677.9 454.5,674.7 452.5,671.7 452.1,668.5 452.5,665.0"/>
<path d="M510.0,686.0 512.6,688.8 508.8,692.5 510.9,695.3 512.6,698.3 511.0,701.6 514.1,704.3 510.0,708.1 512.8,710.9 514.1,713.8 513.4,717.1 515.0,720.0 514.4,724.2 510.3,726.2 509.0,730.0 508.1,733.4 508.6,736.5 509.8,739.5 512.5,742.3 511.1,745.7 514.0,748.4 512.3,751.9 514.0,754.9 514.7,758.0 513.2,761.4 512.0,764.9 513.2,767.9 516.3,770.6 516.9,773.7 518.2,776.7 517.5,780.0 514.6,781.9 511.1,782.2 507.8,783.1 505.0,785.0 504.0,788.1 502.0,790.7 502.1,794.2 499.8,796.7 496.1,798.4 494.7,801.3 495.0,805.0 493.2,807.7 492.8,810.8 491.6,813.6 491.8,816.9 491.5,820.1 489.0,822.5 486.6,820.5 482.9,821.3 481.0,818.2 477.4,818.9 475.2,816.3 472.5,815.0 469.5,811.5 465.0,812.5 461.6,813.2 459.0,815.6 455.8,816.6 453.9,820.4 450.0,820.0 446.9,822.0 446.8,826.2 444.9,829.0 442.8,831.7 440.0,834.0 436.5,834.1 433.1,835.3 429.5,835.4 426.0,834.1 422.5,835.0 419.2,835.4 415.7,834.8 412.6,836.0 409.3,836.2 406.8,840.1 403.2,839.1 400.0,840.0 396.9,841.0 394.0,842.3 392.2,845.3 388.9,845.9 385.9,847.0 384.0,850.0 384.4,853.8 383.5,857.3 382.7,860.7 380.5,863.9 380.0,867.5 376.9,869.6 373.3,868.6 370.1,869.9 366.9,871.2 363.8,872.8 360.0,871.0 356.2,873.2 356.7,876.5 357.5,880.0 354.5,878.5 351.5,882.1 348.5,878.8 345.5,880.5 342.5,880.0"/>
<path d="M505.0,1089.0 508.1,1087.4 510.8,1084.9 514.6,1084.6 517.5,1082.5 521.3,1083.4 524.7,1083.0 527.5,1080.0 528.0,1084.0 530.0,1087.5 533.0,1086.8 536.0,1086.0 539.4,1084.9 542.9,1083.9 546.2,1082.3 550.0,1083.0 551.2,1079.4 553.5,1077.3 558.3,1078.5 559.9,1075.5 563.3,1074.8 563.8,1070.3 567.5,1070.0 567.8,1067.0 567.4,1064.0 568.4,1061.0 567.1,1058.0 568.8,1055.0 568.8,1052.0 569.3,1049.0 564.6,1046.0 565.8,1043.0 567.5,1040.0 568.5,1036.6 569.2,1033.2 565.7,1031.1 563.7,1028.5 564.9,1025.0 562.5,1022.5 560.0,1017.5 559.4,1014.5 558.6,1011.6 559.3,1008.2 556.8,1005.8 553.6,1003.5 555.0,1000.0 551.8,998.2 550.6,994.4 547.5,992.5 545.6,989.9 546.3,986.5 544.3,984.0 544.9,980.6 542.7,978.1 542.5,975.0 539.7,972.2 535.6,972.1 532.5,970.0 534.1,966.9 537.5,966.0 540.7,966.2 543.8,965.5 546.9,964.7 550.0,964.0 552.9,961.4 556.3,962.3 559.9,963.6 562.9,962.1 565.8,959.6 569.6,962.3 572.5,960.0 574.7,957.8 575.8,955.0 577.5,952.5 580.6,951.2 583.9,950.9 587.3,951.0 589.7,946.6 593.5,948.5 596.4,946.5 600.0,947.5 603.3,947.9 606.4,947.2 609.6,946.9 612.9,947.2 616.2,948.7 619.5,948.8 622.5,946.0 626.3,948.2 627.5,952.5 631.7,951.7 632.6,947.6 635.0,945.0 635.9,940.9 641.3,941.3 641.7,936.7 645.0,935.0 648.8,934.1 652.5,935.0"/>
<path d="M927.5,1070.0 929.4,1072.9 930.4,1075.9 928.5,1079.5 930.0,1082.5 933.1,1083.8 935.0,1087.6 938.6,1087.9 942.3,1087.9 945.0,1090.0 946.7,1093.3 949.8,1095.2 953.1,1096.9 954.1,1100.9 957.5,1102.5 959.2,1105.6 956.5,1109.8 958.7,1112.8 961.3,1115.7 961.9,1119.1 962.5,1122.5 962.0,1126.0 965.9,1128.5 964.8,1132.1 967.3,1134.9 965.9,1138.6 966.8,1141.8 967.5,1145.0 964.5,1147.2 965.3,1151.0 963.8,1153.8 960.8,1155.9 962.2,1160.0 960.0,1162.5 956.0,1162.9 954.0,1166.7 951.4,1169.5 947.5,1170.0 944.9,1171.9 943.5,1174.6 942.5,1177.5 945.1,1179.5 944.8,1183.8 946.8,1186.3 951.3,1186.9 952.5,1190.0 954.3,1192.7 954.6,1196.0 955.8,1198.9 957.5,1201.7 957.5,1205.0 955.3,1207.6 954.5,1211.0 952.8,1213.9 951.5,1217.0 950.0,1220.0 951.5,1223.4 954.4,1226.1 955.0,1230.0 956.6,1233.1 956.3,1236.4 956.6,1239.6 955.1,1243.0 956.3,1246.1 958.3,1249.2 957.5,1252.5 954.5,1254.8 950.4,1252.4 947.5,1255.0 944.4,1252.8 941.3,1250.6 937.5,1250.0 939.1,1253.3 937.7,1256.7 937.5,1260.0 934.9,1261.9 932.5,1263.9 933.0,1267.8 930.8,1270.0 929.4,1272.6 927.5,1275.0 925.5,1277.3 924.5,1280.2 922.0,1282.2 920.9,1285.0 917.7,1286.5 917.5,1290.0 916.4,1293.0 915.6,1296.2 914.6,1299.3 911.5,1301.3 912.6,1305.4 910.3,1307.8 907.5,1310.0 905.0,1315.0"/>
<path d="M905.0,1315.0 902.1,1317.4 899.7,1320.2 898.0,1323.7 895.0,1326.0 891.8,1327.8 888.0,1327.7 885.0,1330.0 882.5,1326.0 879.3,1326.9 878.0,1330.3 874.7,1331.0 873.7,1334.8 870.0,1335.0 868.4,1332.0 865.3,1331.2 862.9,1329.5 860.5,1327.5 857.6,1326.5 855.0,1325.0 853.7,1320.5 850.3,1319.8 845.5,1321.4 845.2,1315.1 841.4,1314.9 837.5,1315.0 833.5,1314.8 832.7,1320.1 828.8,1320.1 826.1,1322.2 823.4,1324.1 820.0,1325.0 819.8,1328.2 818.0,1331.4 819.9,1334.6 819.8,1337.9 819.7,1341.1 821.9,1344.3 820.0,1347.5 817.6,1350.1 813.8,1351.3 811.8,1354.3 810.4,1357.9 807.5,1360.0 804.8,1362.6 802.9,1365.7 801.3,1369.0 800.0,1372.5 796.3,1373.4 792.6,1374.3 790.4,1377.7 787.5,1380.0 785.6,1382.8 785.6,1386.5 783.7,1389.3 780.9,1391.7 780.0,1395.0 775.5,1394.6 774.2,1399.4 770.9,1401.0 767.5,1402.5 769.0,1405.2 768.1,1408.6 768.0,1411.8 770.1,1414.4 769.8,1417.6 772.5,1420.0 773.7,1423.0 774.1,1426.3 774.2,1429.6 776.0,1432.5 771.3,1430.5 767.5,1434.0 764.1,1433.8 761.8,1430.3 758.2,1430.9 755.0,1430.0 755.8,1433.5 756.6,1436.9 753.5,1439.7 753.2,1443.0 754.1,1446.5 753.4,1449.7 751.9,1452.8 752.8,1456.3 749.6,1459.1 750.0,1462.5 748.1,1464.9 744.2,1465.9 744.8,1470.2 742.0,1471.9 740.7,1474.9 739.1,1477.5 738.4,1480.8 734.7,1481.9 735.5,1486.4 731.1,1486.9 730.0,1490.0 726.8,1490.4 723.6,1490.8 721.0,1485.2 717.5,1488.7 714.3,1489.3 711.3,1487.2 708.1,1487.6 705.0,1487.5 701.7,1487.6 698.7,1488.8 695.7,1489.9 692.9,1491.8 690.0,1493.2 687.2,1495.0 683.7,1494.2 679.9,1493.1 677.5,1496.0 674.0,1494.0 670.0,1494.0 666.7,1494.4 663.1,1494.3 660.6,1496.6 658.4,1499.7 655.0,1500.0 654.4,1503.4 651.2,1505.7 648.4,1508.2 650.0,1512.5 645.6,1513.3 642.5,1510.0 641.4,1506.7 639.5,1503.7 640.0,1500.0 638.1,1503.8 634.0,1505.0 630.0,1507.5 627.6,1509.7 628.5,1513.5 624.3,1514.9 625.9,1518.9 622.4,1520.6 624.0,1524.7 621.4,1526.8 618.6,1528.9 620.9,1533.2 617.5,1535.0 616.2,1538.0 617.4,1541.8 615.7,1544.7 613.0,1547.3 615.3,1551.4 611.3,1553.6 611.0,1556.9 610.0,1560.0 612.9,1561.5 615.0,1564.0 617.5,1566.0 620.5,1566.8 623.6,1565.8 626.3,1569.3 629.5,1567.0 632.5,1567.5 633.5,1570.8 634.2,1574.2 635.0,1577.5 637.8,1580.1 637.5,1583.8 638.2,1587.2 638.8,1590.5 640.3,1593.6 640.5,1597.1 642.5,1600.0 642.1,1603.4 637.9,1605.1 637.9,1608.7 638.6,1612.5 636.1,1615.0 635.7,1618.3 633.2,1620.8 630.4,1623.1 630.8,1626.8 630.0,1630.0 627.7,1632.4 627.9,1636.1 627.9,1639.7 625.4,1642.0 618.5,1642.1 620.8,1646.8 620.0,1650.0 617.5,1652.4 615.9,1655.4 614.3,1658.3 613.0,1661.5 611.2,1664.3 610.0,1667.5 608.4,1670.3 610.2,1674.0 607.0,1676.4 608.9,1680.1 606.0,1682.5 605.7,1685.9 604.6,1689.2 605.6,1692.6 605.0,1696.0"/>
<path d="M905.0,1315.0 906.6,1317.9 906.1,1321.1 905.5,1324.3 907.5,1327.2 908.2,1330.2 907.4,1333.5 910.8,1336.1 906.2,1339.8 907.3,1342.8 908.0,1345.9 909.0,1348.9 908.4,1352.1 910.0,1355.0 909.0,1358.3 910.5,1361.5 911.8,1364.7 911.9,1367.9 911.4,1371.2 913.0,1374.4 911.1,1377.8 910.7,1381.1 914.3,1384.1 912.5,1387.5 916.0,1388.4 919.1,1385.8 922.5,1385.9 925.8,1385.3 929.0,1384.4 932.5,1385.0 935.6,1383.7 938.9,1384.2 941.9,1381.9 945.5,1384.8 948.3,1381.0 951.8,1382.6 955.0,1382.5 956.5,1379.8 956.2,1376.1 958.4,1373.8 959.6,1370.9 960.4,1367.8 961.9,1365.1 967.0,1364.2 967.8,1361.1 967.5,1357.5 969.6,1354.6 972.9,1352.9 975.5,1350.5 978.2,1348.2 980.0,1345.0 983.3,1346.4 986.6,1345.9 990.1,1343.8 993.3,1346.7 996.8,1342.7 1000.0,1346.0 1000.4,1349.5 1002.6,1352.4 1004.0,1355.6 1002.6,1359.6 1005.0,1362.5 1007.5,1365.2 1005.1,1369.6 1008.6,1372.0 1008.4,1375.6 1010.5,1378.5 1012.0,1381.6 1012.5,1385.0 1017.0,1383.5 1017.8,1380.4 1016.6,1376.4 1018.1,1373.6 1018.4,1370.3 1020.0,1367.5 1022.7,1365.3 1024.4,1362.6 1025.7,1359.9 1023.6,1355.8 1025.0,1353.1 1024.3,1349.6 1027.5,1347.5 1029.1,1345.0 1031.0,1342.6 1032.5,1340.0 1037.2,1340.3 1040.0,1344.0 1040.2,1340.0 1045.0,1339.1 1045.2,1335.1 1047.5,1332.5 1050.8,1332.3 1053.5,1330.5 1056.2,1328.6 1059.6,1328.8 1062.5,1327.5 1063.6,1331.1 1066.1,1333.8 1068.7,1336.5 1070.0,1340.0 1071.5,1343.0 1072.4,1346.3 1074.0,1349.2 1073.9,1353.0 1077.5,1355.0 1082.5,1354.0 1085.3,1352.6 1087.9,1350.9 1089.6,1348.1 1091.4,1345.3 1095.0,1345.0 1098.9,1344.7 1101.0,1348.0 1103.5,1350.6 1106.2,1352.5 1110.0,1352.5 1113.1,1354.1 1115.1,1356.5 1116.9,1359.0 1118.3,1361.9 1119.8,1364.7 1122.0,1366.9 1124.9,1368.7 1125.0,1372.5 1124.4,1376.2 1125.6,1379.6 1127.3,1382.9 1124.3,1386.9 1127.5,1390.0 1129.6,1392.2 1129.2,1396.1 1132.5,1397.5 1134.9,1399.9 1134.5,1403.5 1138.9,1405.1 1137.5,1409.2 1139.4,1411.8 1140.0,1415.0 1142.5,1417.5 1142.4,1421.3 1143.6,1424.4 1147.7,1426.1 1147.5,1430.0 1146.3,1433.2 1144.7,1436.4 1145.0,1440.0 1148.0,1440.5 1150.5,1443.7 1154.2,1440.4 1157.1,1441.1 1160.0,1442.5 1162.3,1444.4 1164.8,1446.1 1167.5,1447.5 1171.9,1448.7 1173.9,1445.3 1177.3,1444.5 1179.3,1441.1 1182.5,1440.0 1186.3,1437.5 1190.4,1436.8 1192.4,1440.9 1197.1,1443.6 1197.1,1440.4 1198.5,1437.5 1203.9,1436.8 1208.0,1440.9 1209.6,1444.5 1213.4,1445.0 1216.7,1446.0 1220.2,1446.3 1222.5,1443.6 1221.6,1440.2"/>
<path d="M1221.6,1440.2 1224.7,1438.9 1227.8,1439.5 1231.0,1439.5 1233.7,1442.7 1237.8,1442.3 1239.2,1445.2 1241.2,1447.7 1244.1,1448.7 1246.8,1450.2 1250.0,1450.0 1253.3,1449.0 1255.8,1452.1 1258.8,1453.0 1262.0,1452.0 1265.2,1450.9 1269.7,1454.0 1271.7,1448.8 1275.0,1448.0 1278.0,1447.0 1281.2,1446.5 1284.0,1445.0 1282.9,1448.2 1282.3,1451.4 1287.2,1454.2 1285.0,1457.5 1287.9,1455.4 1291.5,1458.7 1294.3,1456.0 1297.5,1456.0 1300.8,1456.5 1303.8,1457.9 1306.1,1461.3 1310.0,1460.0 1311.6,1463.3 1314.7,1465.7 1317.4,1468.3 1317.5,1472.5 1321.7,1472.5 1324.5,1475.1 1327.5,1477.5 1329.0,1474.3 1331.3,1472.3 1335.0,1472.5 1337.7,1470.7 1339.2,1468.1 1340.0,1465.0 1341.3,1461.9 1345.8,1461.5 1346.6,1458.0 1347.4,1454.6 1350.0,1452.5 1348.8,1449.5 1346.6,1447.2 1343.6,1445.5 1342.5,1442.5 1339.9,1439.3 1335.2,1442.0 1332.5,1439.0 1329.6,1436.5 1325.6,1436.8 1322.5,1435.0 1322.2,1431.0 1319.8,1428.0 1317.5,1425.0 1321.8,1425.4 1325.0,1422.5 1321.6,1419.8 1323.1,1415.9 1322.5,1412.5 1325.9,1413.8 1329.1,1411.5 1332.7,1414.6 1335.9,1412.8 1339.3,1412.7 1342.5,1411.0 1347.5,1409.0 1343.2,1408.8 1339.0,1407.5 1336.7,1403.8 1340.7,1401.6 1341.1,1398.5 1342.8,1395.7 1342.5,1392.5 1344.5,1389.5 1346.2,1386.2 1350.0,1385.0 1352.7,1383.1 1355.3,1380.8 1358.6,1380.7 1362.0,1380.9 1365.0,1380.0 1365.8,1376.5 1367.2,1373.2 1365.9,1369.3 1367.5,1366.0 1370.6,1366.8 1373.5,1365.5 1376.4,1363.5 1379.4,1363.9 1382.5,1365.0 1383.7,1361.2 1385.0,1357.5 1387.6,1355.3 1390.6,1354.0 1394.2,1354.1 1396.3,1350.6 1400.0,1351.0 1402.2,1348.9 1405.0,1347.5 1408.1,1346.3 1411.2,1345.4 1414.4,1347.3 1417.5,1347.5 1420.9,1348.8 1424.1,1346.5 1427.3,1345.7 1430.9,1348.2 1434.0,1346.0 1435.1,1342.7 1435.3,1339.3 1436.4,1336.0 1435.0,1332.5 1432.7,1330.3 1430.0,1328.8 1428.3,1325.8 1425.0,1325.0 1421.9,1322.9 1417.5,1323.3 1415.0,1320.0 1417.4,1317.2 1417.3,1313.7 1420.4,1311.1 1419.1,1307.2 1420.0,1304.0 1422.8,1301.0 1426.3,1303.3 1429.3,1302.6 1432.5,1302.5 1431.9,1307.0 1434.3,1309.9 1437.5,1312.5 1441.0,1313.9 1443.7,1310.9 1446.9,1311.0 1450.0,1310.0 1454.1,1310.5 1455.7,1305.8 1459.6,1306.1 1462.5,1304.0 1466.0,1306.1 1470.0,1305.0"/>
<path d="M1221.6,1440.2 1221.8,1443.3 1223.3,1446.1 1225.8,1448.6 1223.9,1452.4 1226.0,1455.0 1226.1,1458.3 1226.5,1461.6 1227.2,1464.8 1228.0,1468.0 1227.2,1472.2 1229.4,1475.2 1232.0,1478.0 1232.7,1481.5 1236.3,1482.4 1238.0,1485.0 1240.3,1487.1 1242.7,1489.2 1243.5,1492.3 1245.0,1495.0 1247.4,1500.0 1242.5,1502.5 1239.2,1504.6 1240.1,1508.3 1239.1,1511.2 1237.0,1513.7 1237.6,1517.3 1236.0,1520.0 1234.3,1522.8 1232.3,1525.5 1234.0,1529.9 1228.4,1531.0 1229.1,1534.9 1228.0,1538.0 1224.9,1539.2 1223.7,1543.0 1220.7,1544.4 1216.1,1543.6 1215.0,1547.5 1211.8,1549.1 1208.5,1549.7 1204.8,1549.3 1201.2,1548.8 1199.2,1555.0 1195.0,1552.5 1191.7,1555.6 1192.5,1560.0 1189.7,1562.1 1186.6,1563.8 1186.0,1568.2 1182.2,1569.3 1180.0,1572.0 1175.8,1573.0 1175.1,1577.3 1173.1,1580.5 1170.0,1582.5"/>
<path d="M1020.0,1000.0 1021.4,1003.0 1023.7,1005.3 1026.7,1006.9 1025.9,1011.7 1030.0,1012.5 1033.7,1012.4 1035.0,1015.9 1036.8,1018.6 1039.5,1020.0 1042.0,1021.6 1045.0,1022.5 1047.4,1020.1 1051.6,1022.8 1053.2,1018.4 1056.4,1018.2 1059.3,1017.2 1062.2,1016.1 1065.0,1015.0 1068.0,1017.0 1068.5,1021.5 1072.4,1022.6 1075.0,1025.0 1078.2,1023.4 1077.5,1018.6 1081.9,1018.1 1083.1,1014.8 1085.9,1012.9 1087.5,1010.0 1091.1,1011.6 1095.0,1012.5 1095.7,1015.7 1097.6,1018.3 1098.6,1021.3 1099.8,1024.3 1100.9,1027.2 1102.5,1030.0 1103.4,1033.0 1105.0,1035.8 1104.9,1039.2 1107.6,1041.6 1107.5,1045.0 1109.1,1049.4 1113.1,1049.8 1115.8,1052.5 1120.0,1052.5 1122.9,1053.5 1126.3,1053.0 1129.3,1053.8 1131.8,1055.8 1134.6,1057.1 1137.3,1058.5 1140.0,1060.0 1140.8,1063.1 1139.7,1066.3 1144.2,1069.1 1138.9,1072.7 1142.0,1075.6 1141.6,1078.8 1144.6,1081.6 1142.5,1085.0 1139.2,1086.6 1137.3,1090.4 1132.8,1090.0 1130.0,1092.5 1129.6,1095.5 1129.7,1098.5 1130.2,1101.5 1130.4,1104.5 1130.0,1107.5 1133.1,1108.1 1135.6,1110.7 1139.0,1110.6 1141.9,1111.8 1145.0,1112.5 1147.8,1116.1 1151.2,1113.3 1154.5,1112.2 1157.8,1110.7 1161.0,1110.7 1163.7,1114.5 1166.8,1115.9 1170.0,1115.0 1172.4,1112.4 1175.2,1111.0 1178.7,1111.0 1181.7,1110.2 1185.1,1109.9 1187.5,1107.5 1188.4,1104.5 1188.7,1101.2 1191.4,1098.8 1190.3,1095.1 1192.5,1092.5 1196.3,1091.7 1199.4,1093.2 1202.3,1095.3 1205.5,1096.2 1208.6,1097.9 1211.8,1099.0 1215.0,1100.0 1215.6,1104.4 1219.7,1104.0 1224.2,1102.9 1226.1,1105.5 1227.4,1109.1 1230.7,1109.8 1232.5,1112.5 1236.5,1110.9 1234.4,1106.6 1235.7,1103.8 1237.6,1101.2 1238.4,1098.2 1240.6,1095.8 1240.8,1092.5 1242.8,1090.0 1242.8,1086.7 1241.5,1082.7 1246.6,1081.6 1249.4,1079.4 1247.3,1075.1 1249.0,1072.5 1251.0,1070.0 1253.1,1067.5 1252.5,1063.9 1254.4,1061.3 1255.0,1058.2 1257.2,1055.7 1257.5,1052.5 1260.5,1052.5 1263.4,1055.6 1266.5,1053.0 1269.5,1052.7 1272.6,1051.3 1275.5,1053.5 1278.6,1052.2 1281.5,1054.6 1284.5,1054.6 1287.5,1054.0 1287.8,1058.8 1293.1,1056.8 1294.9,1059.6 1296.6,1062.5 1301.6,1060.9 1302.5,1065.0 1303.6,1068.6 1304.1,1072.6 1308.0,1074.4 1310.0,1077.5 1311.8,1080.3 1312.1,1084.1 1315.0,1086.3 1316.8,1089.1 1317.9,1092.4 1321.6,1094.1 1322.5,1097.5 1326.8,1099.4 1330.0,1096.0 1332.2,1093.8 1335.0,1092.3 1337.2,1090.1 1337.9,1085.8 1341.2,1085.0 1345.0,1085.0 1347.4,1087.5 1349.0,1090.6 1349.7,1094.3 1350.0,1098.3 1355.0,1099.0 1358.3,1099.8 1361.4,1098.4 1364.6,1097.5 1368.0,1100.1 1371.0,1097.1 1374.3,1097.7 1377.5,1097.5 1381.1,1096.2 1381.7,1092.4 1383.8,1089.9 1386.3,1087.6 1386.5,1083.5 1390.3,1082.4 1392.7,1080.2 1395.1,1077.8 1396.5,1074.7 1399.0,1072.5"/>
<path d="M1254.1,1425.3 1257.1,1421.9 1261.6,1421.6 1265.1,1422.8 1267.7,1425.3 1269.7,1430.0 1274.5,1430.7 1270.4,1434.8 1267.0,1437.5 1265.6,1440.4 1265.0,1443.6 1260.2,1445.0 1256.5,1445.0 1253.4,1443.0 1251.4,1437.5 1248.7,1436.2 1249.8,1432.4 1253.4,1430.7 1254.1,1425.3"/>
</g>
<g stroke="#000" stroke-width="0.9" opacity="0.85">
<ellipse cx="1004.8" cy="1718.8" rx="55.2" ry="75.0" fill="#ea7f01"/>
<ellipse cx="936.0" cy="1633.0" rx="53.0" ry="72.0" fill="#faa526"/>
<ellipse cx="822.5" cy="1565.0" rx="52.5" ry="72.2" fill="#fcb23a"/>
<ellipse cx="912.0" cy="1508.5" rx="51.0" ry="71.5" fill="#fcb946"/>
<ellipse cx="788.0" cy="1671.5" rx="49.0" ry="67.4" fill="#ffdf8d"/>
<ellipse cx="1123.5" cy="1563.0" rx="58.0" ry="81.6" fill="#b44600"/>
<ellipse cx="1184.4" cy="1523.0" rx="58.0" ry="80.6" fill="#c25400"/>
<ellipse cx="1291.9" cy="1595.9" rx="60.6" ry="83.4" fill="#8f2f00"/>
<ellipse cx="1234.0" cy="1400.6" rx="56.5" ry="79.4" fill="#df7300"/>
<ellipse cx="1388.4" cy="1482.0" rx="59.0" ry="81.6" fill="#bf5000"/>
<ellipse cx="1448.8" cy="1395.9" rx="55.0" ry="77.9" fill="#ea7f01"/>
<ellipse cx="1543.5" cy="1546.0" rx="59.0" ry="81.0" fill="#bd4e00"/>
<ellipse cx="1815.2" cy="1719.9" rx="58.8" ry="80.6" fill="#be4f00"/>
<ellipse cx="1724.8" cy="1846.8" rx="59.2" ry="80.0" fill="#b04300"/>
<ellipse cx="1032.0" cy="1479.4" rx="53.0" ry="74.4" fill="#f89a16"/>
<ellipse cx="653.0" cy="1627.5" rx="47.0" ry="65.0" fill="#fff0b9"/>
<ellipse cx="583.8" cy="1513.6" rx="50.0" ry="69.5" fill="#fdd579"/>
<ellipse cx="451.9" cy="1587.5" rx="49.4" ry="68.0" fill="#fedc87"/>
<ellipse cx="705.5" cy="1347.0" rx="52.5" ry="73.0" fill="#fcb037"/>
<ellipse cx="722.5" cy="1461.2" rx="50.5" ry="70.8" fill="#fdc762"/>
<ellipse cx="573.5" cy="1347.8" rx="52.2" ry="73.5" fill="#fcb53f"/>
<ellipse cx="948.5" cy="1336.0" rx="53.5" ry="75.4" fill="#faa01e"/>
<ellipse cx="1128.8" cy="1317.8" rx="50.8" ry="72.2" fill="#fdc863"/>
<ellipse cx="833.5" cy="1298.0" rx="51.5" ry="73.8" fill="#fcb742"/>
<ellipse cx="799.8" cy="1171.5" rx="50.2" ry="72.2" fill="#fdd477"/>
<ellipse cx="1031.5" cy="1184.0" rx="49.8" ry="71.5" fill="#feda85"/>
<ellipse cx="1309.5" cy="1267.5" rx="52.5" ry="75.0" fill="#fbab30"/>
<ellipse cx="1245.4" cy="1188.0" rx="51.6" ry="75.0" fill="#fdbf50"/>
<ellipse cx="1242.5" cy="1087.8" rx="48.8" ry="72.8" fill="#fdd477"/>
<ellipse cx="1484.4" cy="1205.4" rx="50.6" ry="73.4" fill="#fdc256"/>
<ellipse cx="602.5" cy="1198.0" rx="52.5" ry="77.0" fill="#fcaf36"/>
<ellipse cx="586.9" cy="1086.2" rx="50.6" ry="75.0" fill="#fcb946"/>
<ellipse cx="689.6" cy="1041.2" rx="51.6" ry="75.0" fill="#fcbc4b"/>
<ellipse cx="469.5" cy="1026.0" rx="52.5" ry="76.5" fill="#fba92e"/>
<ellipse cx="452.8" cy="922.8" rx="52.2" ry="76.5" fill="#fcb33b"/>
<ellipse cx="854.8" cy="1001.6" rx="50.2" ry="72.9" fill="#fed57a"/>
<ellipse cx="1038.0" cy="967.5" rx="49.4" ry="73.8" fill="#fdd071"/>
<ellipse cx="943.0" cy="952.0" rx="49.4" ry="73.0" fill="#fed77d"/>
<ellipse cx="1270.0" cy="907.5" rx="49.5" ry="72.5" fill="#fed880"/>
<ellipse cx="731.9" cy="893.0" rx="50.6" ry="75.6" fill="#fdc459"/>
<ellipse cx="575.5" cy="877.9" rx="49.5" ry="75.9" fill="#fdc255"/>
<ellipse cx="225.9" cy="827.5" rx="51.6" ry="77.5" fill="#fcbb49"/>
<ellipse cx="1435.0" cy="814.0" rx="48.8" ry="73.5" fill="#ffdf8c"/>
<ellipse cx="1392.0" cy="918.8" rx="49.0" ry="71.8" fill="#ffe394"/>
<ellipse cx="1307.9" cy="807.9" rx="49.6" ry="74.1" fill="#fedb86"/>
<ellipse cx="883.0" cy="804.0" rx="50.6" ry="75.4" fill="#fdcd6b"/>
<ellipse cx="1561.4" cy="761.0" rx="49.4" ry="74.0" fill="#fed982"/>
<ellipse cx="669.6" cy="783.0" rx="49.6" ry="73.0" fill="#fed77e"/>
<ellipse cx="435.6" cy="760.6" rx="49.4" ry="74.4" fill="#fed87f"/>
<ellipse cx="1151.2" cy="726.2" rx="50.0" ry="75.0" fill="#fed982"/>
<ellipse cx="831.9" cy="698.0" rx="49.4" ry="74.4" fill="#ffde8a"/>
<ellipse cx="655.6" cy="700.6" rx="49.4" ry="74.4" fill="#fedd89"/>
<ellipse cx="301.0" cy="686.0" rx="46.8" ry="71.8" fill="#ffeeb0"/>
<ellipse cx="86.5" cy="707.0" rx="45.5" ry="69.0" fill="#fff8c5"/>
<ellipse cx="1609.0" cy="674.6" rx="48.0" ry="72.9" fill="#ffe89d"/>
<ellipse cx="1411.0" cy="652.9" rx="48.8" ry="73.4" fill="#ffe8a0"/>
<ellipse cx="1259.4" cy="664.4" rx="48.0" ry="73.0" fill="#ffe9a1"/>
<ellipse cx="935.6" cy="621.0" rx="48.0" ry="73.0" fill="#ffdf8d"/>
<ellipse cx="974.6" cy="679.4" rx="49.0" ry="74.4" fill="#ffdf8d"/>
<ellipse cx="598.8" cy="559.4" rx="48.8" ry="75.6" fill="#fede8a"/>
<ellipse cx="904.0" cy="511.3" rx="47.0" ry="72.7" fill="#ffedae"/>
<ellipse cx="443.0" cy="473.8" rx="47.0" ry="73.0" fill="#ffecaa"/>
<ellipse cx="1230.0" cy="447.0" rx="45.0" ry="70.7" fill="#fffcd4"/>
<ellipse cx="1051.5" cy="432.5" rx="49.0" ry="76.5" fill="#ffe190"/>
<ellipse cx="843.0" cy="304.4" rx="48.0" ry="75.6" fill="#ffe698"/>
</g>
<g font-family="'Liberation Sans', Arial, Helvetica, sans-serif" font-size="40" text-anchor="middle" letter-spacing="0.8" fill="#fff" stroke="#fff" stroke-width="9.8" stroke-linejoin="round">
<text x="1005.1" y="1731.5">2401</text>
<text x="936.4" y="1645.8">2202</text>
<text x="822.9" y="1577.8">2139</text>
<text x="912.4" y="1521.3">2105</text>
<text x="788.4" y="1684.3">1889</text>
<text x="1123.9" y="1575.8">2747</text>
<text x="1184.8" y="1535.8">2675</text>
<text x="1292.3" y="1608.7">2873</text>
<text x="1234.4" y="1413.4">2509</text>
<text x="1388.8" y="1494.8">2703</text>
<text x="1449.2" y="1408.7">2406</text>
<text x="1543.9" y="1558.8">2718</text>
<text x="1815.7" y="1732.7">2710</text>
<text x="1725.2" y="1859.5">2761</text>
<text x="1032.4" y="1492.2">2238</text>
<text x="653.4" y="1640.3">1739</text>
<text x="584.1" y="1526.4">1964</text>
<text x="452.3" y="1600.3">1916</text>
<text x="705.9" y="1359.8">2151</text>
<text x="722.9" y="1474.0">2031</text>
<text x="573.9" y="1360.5">2125</text>
<text x="948.9" y="1348.8">2223</text>
<text x="1129.2" y="1330.5">2028</text>
<text x="833.9" y="1310.8">2117</text>
<text x="800.1" y="1184.3">1969</text>
<text x="1031.9" y="1196.8">1925</text>
<text x="1309.9" y="1280.3">2173</text>
<text x="1245.8" y="1200.8">2079</text>
<text x="1242.9" y="1100.5">1969</text>
<text x="1484.8" y="1218.2">2062</text>
<text x="602.9" y="1210.8">2154</text>
<text x="587.3" y="1099.0">2105</text>
<text x="690.0" y="1054.0">2091</text>
<text x="469.9" y="1038.8">2182</text>
<text x="453.1" y="935.5">2137</text>
<text x="855.1" y="1014.4">1961</text>
<text x="1038.4" y="980.3">1988</text>
<text x="943.4" y="964.8">1950</text>
<text x="1270.4" y="920.3">1940</text>
<text x="732.3" y="905.8">2053</text>
<text x="575.9" y="890.7">2064</text>
<text x="226.3" y="840.3">2097</text>
<text x="1435.4" y="826.8">1892</text>
<text x="1392.4" y="931.5">1851</text>
<text x="1308.3" y="820.7">1918</text>
<text x="883.4" y="816.8">2005</text>
<text x="1561.8" y="773.8">1933</text>
<text x="670.0" y="795.8">1947</text>
<text x="436.0" y="773.4">1943</text>
<text x="1151.7" y="739.0">1934</text>
<text x="832.3" y="710.8">1903</text>
<text x="656.0" y="713.4">1908</text>
<text x="301.4" y="698.8">1756</text>
<text x="86.9" y="719.8">1661</text>
<text x="1609.4" y="687.4">1815</text>
<text x="1411.4" y="665.7">1808</text>
<text x="1259.8" y="677.2">1805</text>
<text x="936.0" y="633.8">1888</text>
<text x="975.0" y="692.2">1886</text>
<text x="599.1" y="572.2">1905</text>
<text x="904.4" y="524.1">1759</text>
<text x="443.4" y="486.6">1770</text>
<text x="1230.4" y="459.8">1623</text>
<text x="1051.9" y="445.3">1871</text>
<text x="843.4" y="317.2">1830</text>
</g>
<g font-family="'Liberation Sans', Arial, Helvetica, sans-serif" font-size="40" text-anchor="middle" letter-spacing="0.8" fill="#000" stroke="#000" stroke-width="0.7" stroke-linejoin="round">
<text x="1005.1" y="1731.5">2401</text>
<text x="936.4" y="1645.8">2202</text>
<text x="822.9" y="1577.8">2139</text>
<text x="912.4" y="1521.3">2105</text>
<text x="788.4" y="1684.3">1889</text>
<text x="1123.9" y="1575.8">2747</text>
<text x="1184.8" y="1535.8">2675</text>
<text x="1292.3" y="1608.7">2873</text>
<text x="1234.4" y="1413.4">2509</text>
<text x="1388.8" y="1494.8">2703</text>
<text x="1449.2" y="1408.7">2406</text>
<text x="1543.9" y="1558.8">2718</text>
<text x="1815.7" y="1732.7">2710</text>
<text x="1725.2" y="1859.5">2761</text>
<text x="1032.4" y="1492.2">2238</text>
<text x="653.4" y="1640.3">1739</text>
<text x="584.1" y="1526.4">1964</text>
<text x="452.3" y="1600.3">1916</text>
<text x="705.9" y="1359.8">2151</text>
<text x="722.9" y="1474.0">2031</text>
<text x="573.9" y="1360.5">2125</text>
<text x="948.9" y="1348.8">2223</text>
<text x="1129.2" y="1330.5">2028</text>
<text x="833.9" y="1310.8">2117</text>
<text x="800.1" y="1184.3">1969</text>
<text x="1031.9" y="1196.8">1925</text>
<text x="1309.9" y="1280.3">2173</text>
<text x="1245.8" y="1200.8">2079</text>
<text x="1242.9" y="1100.5">1969</text>
<text x="1484.8" y="1218.2">2062</text>
<text x="602.9" y="1210.8">2154</text>
<text x="587.3" y="1099.0">2105</text>
<text x="690.0" y="1054.0">2091</text>
<text x="469.9" y="1038.8">2182</text>
<text x="453.1" y="935.5">2137</text>
<text x="855.1" y="1014.4">1961</text>
<text x="1038.4" y="980.3">1988</text>
<text x="943.4" y="964.8">1950</text>
<text x="1270.4" y="920.3">1940</text>
<text x="732.3" y="905.8">2053</text>
<text x="575.9" y="890.7">2064</text>
<text x="226.3" y="840.3">2097</text>
<text x="1435.4" y="826.8">1892</text>
<text x="1392.4" y="931.5">1851</text>
<text x="1308.3" y="820.7">1918</text>
<text x="883.4" y="816.8">2005</text>
<text x="1561.8" y="773.8">1933</text>
<text x="670.0" y="795.8">1947</text>
<text x="436.0" y="773.4">1943</text>
<text x="1151.7" y="739.0">1934</text>
<text x="832.3" y="710.8">1903</text>
<text x="656.0" y="713.4">1908</text>
<text x="301.4" y="698.8">1756</text>
<text x="86.9" y="719.8">1661</text>
<text x="1609.4" y="687.4">1815</text>
<text x="1411.4" y="665.7">1808</text>
<text x="1259.8" y="677.2">1805</text>
<text x="936.0" y="633.8">1888</text>
<text x="975.0" y="692.2">1886</text>
<text x="599.1" y="572.2">1905</text>
<text x="904.4" y="524.1">1759</text>
<text x="443.4" y="486.6">1770</text>
<text x="1230.4" y="459.8">1623</text>
<text x="1051.9" y="445.3">1871</text>
<text x="843.4" y="317.2">1830</text>
</g>
<rect x="0" y="0" width="286" height="270" fill="#061c3f"/>
<path d="M137.6,46 A37.5,37.5 0 0 0 137.6,121 Z" fill="#de8119"/>
<path d="M141.3,37 A46.5,46.5 0 0 1 141.3,130 Z" fill="#e8ebf3"/>
<g font-family="'Liberation Sans', Arial, sans-serif" font-weight="bold" fill="#e8ebf3" stroke="#e8ebf3" stroke-width="0.5">
<text x="55.9" y="183.7" font-size="44.6" textLength="174" lengthAdjust="spacingAndGlyphs">METEO-</text>
<text x="60" y="217.8" font-size="29.5" textLength="171" lengthAdjust="spacingAndGlyphs">VILLES.COM</text>
</g>
<g font-family="'Liberation Sans', Arial, sans-serif" fill="#fff">
<text x="56.9" y="310.6" font-size="35" textLength="164" lengthAdjust="spacingAndGlyphs">Données :</text>
<text x="20.9" y="356.7" font-size="35" textLength="235" lengthAdjust="spacingAndGlyphs">Météo-France</text>
</g>
<g font-family="'Liberation Sans', Arial, sans-serif" font-weight="bold" fill="#fff" stroke="#fff" stroke-linejoin="round">
<text x="812.4" y="78.2" font-size="74" stroke-width="1" textLength="1084.7" lengthAdjust="spacingAndGlyphs">ENSOLEILLEMENT - ANNEE 2021</text>
<text x="1026.5" y="148" font-size="54.5" stroke-width="0.8" textLength="869.6" lengthAdjust="spacingAndGlyphs">Durée totale d’insolation (en heures)</text>
</g>
</svg>
</body></html>
